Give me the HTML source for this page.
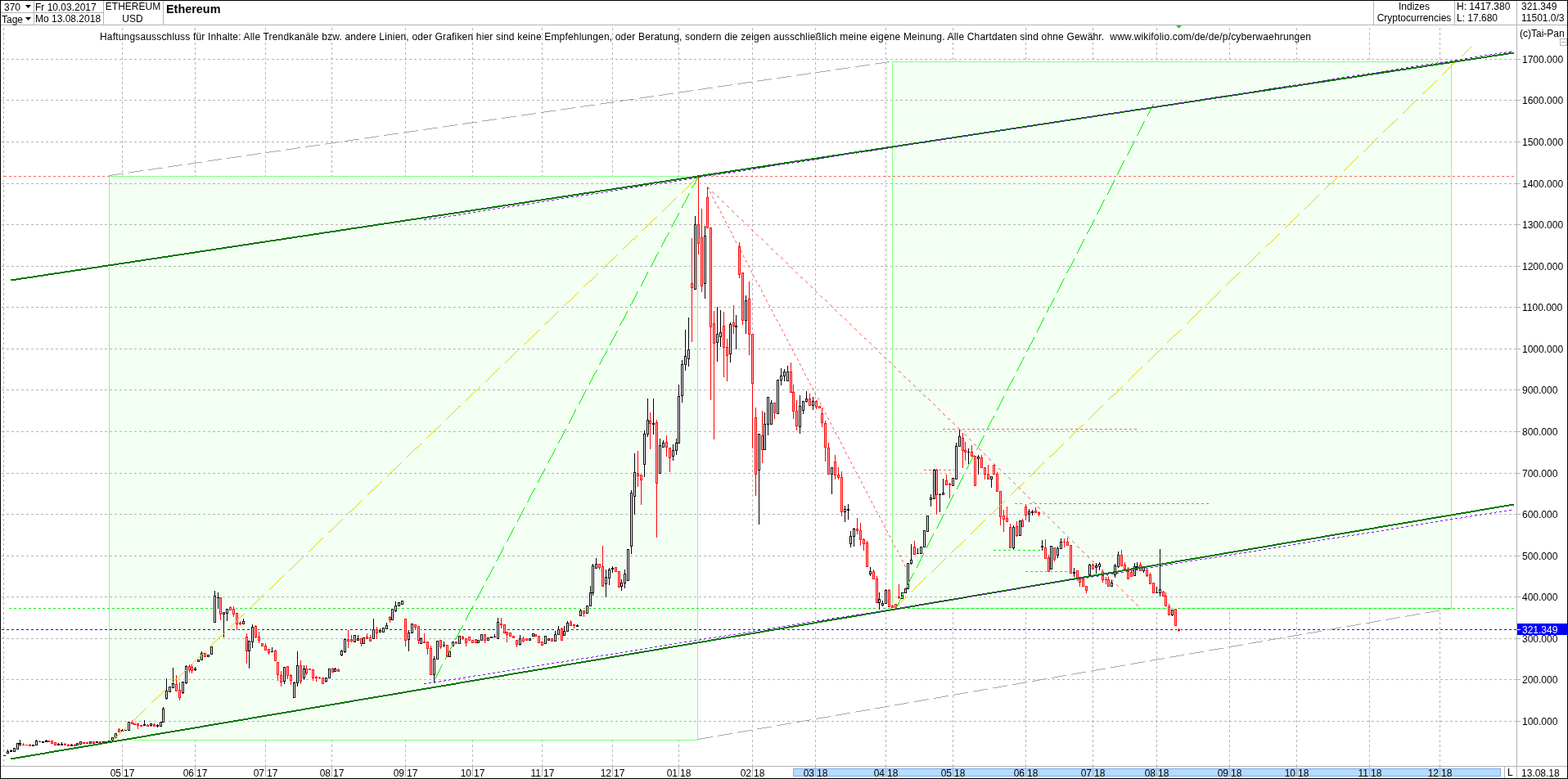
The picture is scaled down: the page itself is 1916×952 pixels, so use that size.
<!DOCTYPE html><html><head><meta charset="utf-8"><title>Ethereum</title><style>html,body{margin:0;padding:0;background:#fff;overflow:hidden}svg{display:block}text{font-family:"Liberation Sans",Arial,sans-serif;font-size:12px;fill:#000}.b{font-weight:bold}</style></head><body>
<svg width="1916" height="952" viewBox="0 0 1916 952">
<rect x="0" y="0" width="1916" height="952" fill="#fff"/>
<g shape-rendering="crispEdges">
<line x1="4.5" y1="34" x2="4.5" y2="936" stroke="#b4b4b4" stroke-dasharray="3 3"/>
<line x1="149.5" y1="34" x2="149.5" y2="936" stroke="#b4b4b4" stroke-dasharray="3 3"/>
<line x1="238.5" y1="34" x2="238.5" y2="936" stroke="#b4b4b4" stroke-dasharray="3 3"/>
<line x1="324.5" y1="34" x2="324.5" y2="936" stroke="#b4b4b4" stroke-dasharray="3 3"/>
<line x1="405.5" y1="34" x2="405.5" y2="936" stroke="#b4b4b4" stroke-dasharray="3 3"/>
<line x1="495.5" y1="34" x2="495.5" y2="936" stroke="#b4b4b4" stroke-dasharray="3 3"/>
<line x1="577.5" y1="34" x2="577.5" y2="936" stroke="#b4b4b4" stroke-dasharray="3 3"/>
<line x1="662.5" y1="34" x2="662.5" y2="936" stroke="#b4b4b4" stroke-dasharray="3 3"/>
<line x1="748.5" y1="34" x2="748.5" y2="936" stroke="#b4b4b4" stroke-dasharray="3 3"/>
<line x1="829.5" y1="34" x2="829.5" y2="936" stroke="#b4b4b4" stroke-dasharray="3 3"/>
<line x1="919.5" y1="34" x2="919.5" y2="936" stroke="#b4b4b4" stroke-dasharray="3 3"/>
<line x1="996.5" y1="34" x2="996.5" y2="936" stroke="#b4b4b4" stroke-dasharray="3 3"/>
<line x1="1082.5" y1="34" x2="1082.5" y2="936" stroke="#b4b4b4" stroke-dasharray="3 3"/>
<line x1="1164.5" y1="34" x2="1164.5" y2="936" stroke="#b4b4b4" stroke-dasharray="3 3"/>
<line x1="1253.5" y1="34" x2="1253.5" y2="936" stroke="#b4b4b4" stroke-dasharray="3 3"/>
<line x1="1335.5" y1="34" x2="1335.5" y2="936" stroke="#b4b4b4" stroke-dasharray="3 3"/>
<line x1="1413.5" y1="34" x2="1413.5" y2="936" stroke="#b4b4b4" stroke-dasharray="3 3"/>
<line x1="1502.5" y1="34" x2="1502.5" y2="936" stroke="#b4b4b4" stroke-dasharray="3 3"/>
<line x1="1584.5" y1="34" x2="1584.5" y2="936" stroke="#b4b4b4" stroke-dasharray="3 3"/>
<line x1="1673.5" y1="34" x2="1673.5" y2="936" stroke="#b4b4b4" stroke-dasharray="3 3"/>
<line x1="1759.5" y1="34" x2="1759.5" y2="936" stroke="#b4b4b4" stroke-dasharray="3 3"/>
<rect x="133" y="215" width="720" height="690" fill="#f3fff3"/>
<rect x="1090" y="75" width="684" height="669" fill="#f3fff3"/>
<line x1="8" y1="72.5" x2="1850" y2="72.5" stroke="#b4b4b4" stroke-dasharray="3 3"/>
<rect x="1850" y="72" width="8" height="1" fill="#b4b4b4"/>
<rect x="2" y="72" width="3" height="1" fill="#b4b4b4"/>
<line x1="8" y1="122.5" x2="1850" y2="122.5" stroke="#b4b4b4" stroke-dasharray="3 3"/>
<rect x="1850" y="122" width="8" height="1" fill="#b4b4b4"/>
<rect x="2" y="122" width="3" height="1" fill="#b4b4b4"/>
<line x1="8" y1="173.5" x2="1850" y2="173.5" stroke="#b4b4b4" stroke-dasharray="3 3"/>
<rect x="1850" y="173" width="8" height="1" fill="#b4b4b4"/>
<rect x="2" y="173" width="3" height="1" fill="#b4b4b4"/>
<line x1="8" y1="224.5" x2="1850" y2="224.5" stroke="#b4b4b4" stroke-dasharray="3 3"/>
<rect x="1850" y="224" width="8" height="1" fill="#b4b4b4"/>
<rect x="2" y="224" width="3" height="1" fill="#b4b4b4"/>
<line x1="8" y1="274.5" x2="1850" y2="274.5" stroke="#b4b4b4" stroke-dasharray="3 3"/>
<rect x="1850" y="274" width="8" height="1" fill="#b4b4b4"/>
<rect x="2" y="274" width="3" height="1" fill="#b4b4b4"/>
<line x1="8" y1="325.5" x2="1850" y2="325.5" stroke="#b4b4b4" stroke-dasharray="3 3"/>
<rect x="1850" y="325" width="8" height="1" fill="#b4b4b4"/>
<rect x="2" y="325" width="3" height="1" fill="#b4b4b4"/>
<line x1="8" y1="375.5" x2="1850" y2="375.5" stroke="#b4b4b4" stroke-dasharray="3 3"/>
<rect x="1850" y="375" width="8" height="1" fill="#b4b4b4"/>
<rect x="2" y="375" width="3" height="1" fill="#b4b4b4"/>
<line x1="8" y1="426.5" x2="1850" y2="426.5" stroke="#b4b4b4" stroke-dasharray="3 3"/>
<rect x="1850" y="426" width="8" height="1" fill="#b4b4b4"/>
<rect x="2" y="426" width="3" height="1" fill="#b4b4b4"/>
<line x1="8" y1="476.5" x2="1850" y2="476.5" stroke="#b4b4b4" stroke-dasharray="3 3"/>
<rect x="1850" y="476" width="8" height="1" fill="#b4b4b4"/>
<rect x="2" y="476" width="3" height="1" fill="#b4b4b4"/>
<line x1="8" y1="527.5" x2="1850" y2="527.5" stroke="#b4b4b4" stroke-dasharray="3 3"/>
<rect x="1850" y="527" width="8" height="1" fill="#b4b4b4"/>
<rect x="2" y="527" width="3" height="1" fill="#b4b4b4"/>
<line x1="8" y1="578.5" x2="1850" y2="578.5" stroke="#b4b4b4" stroke-dasharray="3 3"/>
<rect x="1850" y="578" width="8" height="1" fill="#b4b4b4"/>
<rect x="2" y="578" width="3" height="1" fill="#b4b4b4"/>
<line x1="8" y1="628.5" x2="1850" y2="628.5" stroke="#b4b4b4" stroke-dasharray="3 3"/>
<rect x="1850" y="628" width="8" height="1" fill="#b4b4b4"/>
<rect x="2" y="628" width="3" height="1" fill="#b4b4b4"/>
<line x1="8" y1="679.5" x2="1850" y2="679.5" stroke="#b4b4b4" stroke-dasharray="3 3"/>
<rect x="1850" y="679" width="8" height="1" fill="#b4b4b4"/>
<rect x="2" y="679" width="3" height="1" fill="#b4b4b4"/>
<line x1="8" y1="729.5" x2="1850" y2="729.5" stroke="#b4b4b4" stroke-dasharray="3 3"/>
<rect x="1850" y="729" width="8" height="1" fill="#b4b4b4"/>
<rect x="2" y="729" width="3" height="1" fill="#b4b4b4"/>
<line x1="8" y1="780.5" x2="1850" y2="780.5" stroke="#b4b4b4" stroke-dasharray="3 3"/>
<rect x="1850" y="780" width="8" height="1" fill="#b4b4b4"/>
<rect x="2" y="780" width="3" height="1" fill="#b4b4b4"/>
<line x1="8" y1="830.5" x2="1850" y2="830.5" stroke="#b4b4b4" stroke-dasharray="3 3"/>
<rect x="1850" y="830" width="8" height="1" fill="#b4b4b4"/>
<rect x="2" y="830" width="3" height="1" fill="#b4b4b4"/>
<line x1="8" y1="881.5" x2="1850" y2="881.5" stroke="#b4b4b4" stroke-dasharray="3 3"/>
<rect x="1850" y="881" width="8" height="1" fill="#b4b4b4"/>
<rect x="2" y="881" width="3" height="1" fill="#b4b4b4"/>
<line x1="5" y1="215.5" x2="1851" y2="215.5" stroke="#ff6464" stroke-dasharray="3 3"/>
<line x1="1152" y1="524.5" x2="1390" y2="524.5" stroke="#ff6464" stroke-dasharray="3 3"/>
<line x1="1129" y1="574.5" x2="1169" y2="574.5" stroke="#ff6464" stroke-dasharray="3 3"/>
<line x1="1240" y1="615.5" x2="1479" y2="615.5" stroke="#ff6464" stroke-dasharray="3 3"/>
<rect x="133.5" y="215.5" width="719" height="689" fill="none" stroke="#80ff80"/>
<rect x="1090.5" y="75.5" width="683" height="668" fill="none" stroke="#80ff80"/>
</g>
<path d="M13 342.0h7M20 341.0h6M26 340.0h7M33 339.0h7M40 338.0h6M46 337.0h7M53 336.0h6M59 335.0h7M66 334.0h7M73 333.0h6M79 332.0h7M86 331.0h6M92 330.0h7M99 329.0h7M106 328.0h6M112 327.0h7M119 326.0h6M125 325.0h7M132 324.0h7M139 323.0h6M145 322.0h7M152 321.0h7M159 320.0h6M165 319.0h7M172 318.0h6M178 317.0h7M185 316.0h7M192 315.0h6M198 314.0h7M205 313.0h6M211 312.0h7M218 311.0h7M225 310.0h6M231 309.0h7M238 308.0h6M244 307.0h7M251 306.0h7M258 305.0h6M264 304.0h7M271 303.0h6M277 302.0h7M284 301.0h7M291 300.0h6M297 299.0h7M304 298.0h6M310 297.0h7M317 296.0h7M324 295.0h6M330 294.0h7M337 293.0h7M344 292.0h6M350 291.0h7M357 290.0h6M363 289.0h7M370 288.0h7M377 287.0h6M383 286.0h7M390 285.0h6M396 284.0h7M403 283.0h7M410 282.0h6M416 281.0h7M423 280.0h6M429 279.0h7M436 278.0h7M443 277.0h6M449 276.0h7M456 275.0h6M462 274.0h7M469 273.0h7M476 272.0h6M482 271.0h7M489 270.0h6M495 269.0h7M502 268.0h7M509 267.0h6M515 266.0h7M522 265.0h6M528 264.0h7M535 263.0h7M542 262.0h6M548 261.0h7M555 260.0h7M562 259.0h6M568 258.0h7M575 257.0h6M581 256.0h7M588 255.0h7M595 254.0h6M601 253.0h7M608 252.0h6M614 251.0h7M621 250.0h7M628 249.0h6M634 248.0h7M641 247.0h6M647 246.0h7M654 245.0h7M661 244.0h6M667 243.0h7M674 242.0h6M680 241.0h7M687 240.0h7M694 239.0h6M700 238.0h7M707 237.0h6M713 236.0h7M720 235.0h7M727 234.0h6M733 233.0h7M740 232.0h7M747 231.0h6M753 230.0h7M760 229.0h6M766 228.0h7M773 227.0h7M780 226.0h6M786 225.0h7M793 224.0h6M799 223.0h7M806 222.0h7M813 221.0h6M819 220.0h7M826 219.0h6M832 218.0h7M839 217.0h7M846 216.0h6M852 215.0h7M859 214.0h6M865 213.0h7M872 212.0h7M879 211.0h6M885 210.0h7M892 209.0h6M898 208.0h7M905 207.0h7M912 206.0h6M918 205.0h7M925 204.0h7M932 203.0h6M938 202.0h7M945 201.0h6M951 200.0h7M958 199.0h7M965 198.0h6M971 197.0h7M978 196.0h6M984 195.0h7M991 194.0h7M998 193.0h6M1004 192.0h7M1011 191.0h6M1017 190.0h7M1024 189.0h7M1031 188.0h6M1037 187.0h7M1044 186.0h6M1050 185.0h7M1057 184.0h7M1064 183.0h6M1070 182.0h7M1077 181.0h6M1083 180.0h7M1090 179.0h7M1097 178.0h6M1103 177.0h7M1110 176.0h6M1116 175.0h7M1123 174.0h7M1130 173.0h6M1136 172.0h7M1143 171.0h7M1150 170.0h6M1156 169.0h7M1163 168.0h6M1169 167.0h7M1176 166.0h7M1183 165.0h6M1189 164.0h7M1196 163.0h6M1202 162.0h7M1209 161.0h7M1216 160.0h6M1222 159.0h7M1229 158.0h6M1235 157.0h7M1242 156.0h7M1249 155.0h6M1255 154.0h7M1262 153.0h6M1268 152.0h7M1275 151.0h7M1282 150.0h6M1288 149.0h7M1295 148.0h6M1301 147.0h7M1308 146.0h7M1315 145.0h6M1321 144.0h7M1328 143.0h7M1335 142.0h6M1341 141.0h7M1348 140.0h6M1354 139.0h7M1361 138.0h7M1368 137.0h6M1374 136.0h7M1381 135.0h6M1387 134.0h7M1394 133.0h7M1401 132.0h6M1407 131.0h7M1414 130.0h6M1420 129.0h7M1427 128.0h7M1434 127.0h6M1440 126.0h7M1447 125.0h6M1453 124.0h7M1460 123.0h7M1467 122.0h6M1473 121.0h7M1480 120.0h6M1486 119.0h7M1493 118.0h7M1500 117.0h6M1506 116.0h7M1513 115.0h6M1519 114.0h7M1526 113.0h7M1533 112.0h6M1539 111.0h7M1546 110.0h7M1553 109.0h6M1559 108.0h7M1566 107.0h6M1572 106.0h7M1579 105.0h7M1586 104.0h6M1592 103.0h7M1599 102.0h6M1605 101.0h7M1612 100.0h7M1619 99.0h6M1625 98.0h7M1632 97.0h6M1638 96.0h7M1645 95.0h7M1652 94.0h6M1658 93.0h7M1665 92.0h6M1671 91.0h7M1678 90.0h7M1685 89.0h6M1691 88.0h7M1698 87.0h6M1704 86.0h7M1711 85.0h7M1718 84.0h6M1724 83.0h7M1731 82.0h7M1738 81.0h6M1744 80.0h7M1751 79.0h6M1757 78.0h7M1764 77.0h7M1771 76.0h6M1777 75.0h7M1784 74.0h6M1790 73.0h7M1797 72.0h7M1804 71.0h6M1810 70.0h7M1817 69.0h6M1823 68.0h7M1830 67.0h7M1837 66.0h6M1843 65.0h7" stroke="#fff" stroke-width="4" fill="none"/>
<path d="M13 927.0h6M19 926.0h6M25 925.0h6M31 924.0h6M37 923.0h6M43 922.0h6M49 921.0h6M55 920.0h5M60 919.0h6M66 918.0h6M72 917.0h6M78 916.0h6M84 915.0h6M90 914.0h6M96 913.0h6M102 912.0h6M108 911.0h6M114 910.0h6M120 909.0h5M125 908.0h6M131 907.0h6M137 906.0h6M143 905.0h6M149 904.0h6M155 903.0h6M161 902.0h6M167 901.0h6M173 900.0h6M179 899.0h5M184 898.0h6M190 897.0h6M196 896.0h6M202 895.0h6M208 894.0h6M214 893.0h6M220 892.0h6M226 891.0h6M232 890.0h6M238 889.0h6M244 888.0h5M249 887.0h6M255 886.0h6M261 885.0h6M267 884.0h6M273 883.0h6M279 882.0h6M285 881.0h6M291 880.0h6M297 879.0h6M303 878.0h5M308 877.0h6M314 876.0h6M320 875.0h6M326 874.0h6M332 873.0h6M338 872.0h6M344 871.0h6M350 870.0h6M356 869.0h6M362 868.0h6M368 867.0h5M373 866.0h6M379 865.0h6M385 864.0h6M391 863.0h6M397 862.0h6M403 861.0h6M409 860.0h6M415 859.0h6M421 858.0h6M427 857.0h5M432 856.0h6M438 855.0h6M444 854.0h6M450 853.0h6M456 852.0h6M462 851.0h6M468 850.0h6M474 849.0h6M480 848.0h6M486 847.0h6M492 846.0h5M497 845.0h6M503 844.0h6M509 843.0h6M515 842.0h6M521 841.0h6M527 840.0h6M533 839.0h6M539 838.0h6M545 837.0h6M551 836.0h6M557 835.0h5M562 834.0h6M568 833.0h6M574 832.0h6M580 831.0h6M586 830.0h6M592 829.0h6M598 828.0h6M604 827.0h6M610 826.0h6M616 825.0h5M621 824.0h6M627 823.0h6M633 822.0h6M639 821.0h6M645 820.0h6M651 819.0h6M657 818.0h6M663 817.0h6M669 816.0h6M675 815.0h6M681 814.0h5M686 813.0h6M692 812.0h6M698 811.0h6M704 810.0h6M710 809.0h6M716 808.0h6M722 807.0h6M728 806.0h6M734 805.0h6M740 804.0h5M745 803.0h6M751 802.0h6M757 801.0h6M763 800.0h6M769 799.0h6M775 798.0h6M781 797.0h6M787 796.0h6M793 795.0h6M799 794.0h6M805 793.0h5M810 792.0h6M816 791.0h6M822 790.0h6M828 789.0h6M834 788.0h6M840 787.0h6M846 786.0h6M852 785.0h6M858 784.0h6M864 783.0h5M869 782.0h6M875 781.0h6M881 780.0h6M887 779.0h6M893 778.0h6M899 777.0h6M905 776.0h6M911 775.0h6M917 774.0h6M923 773.0h6M929 772.0h5M934 771.0h6M940 770.0h6M946 769.0h6M952 768.0h6M958 767.0h6M964 766.0h6M970 765.0h6M976 764.0h6M982 763.0h6M988 762.0h6M994 761.0h5M999 760.0h6M1005 759.0h6M1011 758.0h6M1017 757.0h6M1023 756.0h6M1029 755.0h6M1035 754.0h6M1041 753.0h6M1047 752.0h6M1053 751.0h5M1058 750.0h6M1064 749.0h6M1070 748.0h6M1076 747.0h6M1082 746.0h6M1088 745.0h6M1094 744.0h6M1100 743.0h6M1106 742.0h6M1112 741.0h6M1118 740.0h5M1123 739.0h6M1129 738.0h6M1135 737.0h6M1141 736.0h6M1147 735.0h6M1153 734.0h6M1159 733.0h6M1165 732.0h6M1171 731.0h6M1177 730.0h5M1182 729.0h6M1188 728.0h6M1194 727.0h6M1200 726.0h6M1206 725.0h6M1212 724.0h6M1218 723.0h6M1224 722.0h6M1230 721.0h6M1236 720.0h6M1242 719.0h5M1247 718.0h6M1253 717.0h6M1259 716.0h6M1265 715.0h6M1271 714.0h6M1277 713.0h6M1283 712.0h6M1289 711.0h6M1295 710.0h6M1301 709.0h5M1306 708.0h6M1312 707.0h6M1318 706.0h6M1324 705.0h6M1330 704.0h6M1336 703.0h6M1342 702.0h6M1348 701.0h6M1354 700.0h6M1360 699.0h6M1366 698.0h5M1371 697.0h6M1377 696.0h6M1383 695.0h6M1389 694.0h6M1395 693.0h6M1401 692.0h6M1407 691.0h6M1413 690.0h6M1419 689.0h6M1425 688.0h6M1431 687.0h5M1436 686.0h6M1442 685.0h6M1448 684.0h6M1454 683.0h6M1460 682.0h6M1466 681.0h6M1472 680.0h6M1478 679.0h6M1484 678.0h6M1490 677.0h5M1495 676.0h6M1501 675.0h6M1507 674.0h6M1513 673.0h6M1519 672.0h6M1525 671.0h6M1531 670.0h6M1537 669.0h6M1543 668.0h6M1549 667.0h6M1555 666.0h5M1560 665.0h6M1566 664.0h6M1572 663.0h6M1578 662.0h6M1584 661.0h6M1590 660.0h6M1596 659.0h6M1602 658.0h6M1608 657.0h6M1614 656.0h5M1619 655.0h6M1625 654.0h6M1631 653.0h6M1637 652.0h6M1643 651.0h6M1649 650.0h6M1655 649.0h6M1661 648.0h6M1667 647.0h6M1673 646.0h6M1679 645.0h5M1684 644.0h6M1690 643.0h6M1696 642.0h6M1702 641.0h6M1708 640.0h6M1714 639.0h6M1720 638.0h6M1726 637.0h6M1732 636.0h6M1738 635.0h5M1743 634.0h6M1749 633.0h6M1755 632.0h6M1761 631.0h6M1767 630.0h6M1773 629.0h6M1779 628.0h6M1785 627.0h6M1791 626.0h6M1797 625.0h6M1803 624.0h5M1808 623.0h6M1814 622.0h6M1820 621.0h6M1826 620.0h6M1832 619.0h6M1838 618.0h6M1844 617.0h6" stroke="#fff" stroke-width="4" fill="none"/>
<g shape-rendering="crispEdges">
<line x1="11" y1="743.5" x2="1851" y2="743.5" stroke="#00f000" stroke-dasharray="3 3"/>
<line x1="1214" y1="672.5" x2="1278" y2="672.5" stroke="#00f000" stroke-dasharray="3 3"/>
<line x1="1253" y1="698.5" x2="1309" y2="698.5" stroke="#00f000" stroke-dasharray="3 3"/>
<line x1="2" y1="769.5" x2="1853" y2="769.5" stroke="#0000ff" stroke-dasharray="3 3"/>
</g>
<g shape-rendering="crispEdges">
<path d="M4 922h3v3h-3zM3 922h5v3h-5zM8 915h3v7h-3zM7 917h5v5h-5zM12 915h3v5h-3zM11 916h5v4h-5zM16 913h3v7h-3zM15 913h5v7h-5zM20 907h3v10h-3zM19 907h5v10h-5zM23 903h3v10h-3zM22 907h5v4h-5zM27 907h3v5h-3zM26 909h5v3h-5zM31 909h3v3h-3zM30 909h5v3h-5zM35 908h3v5h-3zM34 909h5v4h-5zM39 909h3v4h-3zM38 909h5v4h-5zM43 903h3v9h-3zM42 904h5v8h-5zM47 904h3v4h-3zM46 905h5v3h-5zM51 905h3v4h-3zM50 905h5v4h-5zM55 903h3v5h-3zM54 904h5v4h-5zM58 904h3v4h-3zM57 904h5v4h-5zM62 904h3v6h-3zM61 904h5v6h-5zM66 906h3v6h-3zM65 906h5v6h-5zM70 907h3v5h-3zM69 908h5v4h-5zM74 906h3v6h-3zM73 908h5v4h-5zM78 907h3v5h-3zM77 908h5v4h-5zM82 908h3v5h-3zM81 909h5v4h-5zM86 908h3v5h-3zM85 909h5v4h-5zM90 908h3v5h-3zM89 909h5v4h-5zM93 907h3v5h-3zM92 907h5v5h-5zM97 905h3v6h-3zM96 905h5v6h-5zM101 906h3v4h-3zM100 906h5v4h-5zM105 906h3v4h-3zM104 906h5v4h-5zM109 905h3v5h-3zM108 905h5v5h-5zM113 905h3v5h-3zM112 905h5v5h-5zM117 905h3v4h-3zM116 905h5v4h-5zM121 905h3v4h-3zM120 905h5v4h-5zM125 905h3v4h-3zM124 905h5v4h-5zM128 905h3v4h-3zM127 905h5v4h-5zM132 904h3v4h-3zM131 904h5v4h-5zM136 900h3v6h-3zM135 900h5v6h-5zM140 895h3v8h-3zM139 895h5v8h-5zM144 889h3v7h-3zM143 890h5v6h-5zM148 890h3v5h-3zM147 891h5v4h-5zM152 891h3v3h-3zM151 891h5v3h-5zM156 881h3v13h-3zM155 881h5v13h-5zM160 879h3v7h-3zM159 881h5v5h-5zM163 883h3v4h-3zM162 883h5v4h-5zM167 883h3v9h-3zM166 883h5v5h-5zM171 885h3v4h-3zM170 885h5v4h-5zM175 879h3v9h-3zM174 884h5v4h-5zM179 884h3v5h-3zM178 885h5v4h-5zM183 883h3v6h-3zM182 883h5v5h-5zM187 883h3v6h-3zM186 884h5v5h-5zM191 884h3v6h-3zM190 885h5v4h-5zM195 881h3v8h-3zM194 881h5v8h-5zM198 863h3v21h-3zM197 865h5v19h-5zM202 828h3v28h-3zM201 843h5v12h-5zM206 838h3v9h-3zM205 838h5v9h-5zM210 815h3v27h-3zM209 834h5v8h-5zM214 824h3v22h-3zM213 835h5v11h-5zM218 833h3v24h-3zM217 842h5v12h-5zM222 832h3v17h-3zM221 832h5v16h-5zM226 812h3v25h-3zM225 813h5v23h-5zM230 811h3v12h-3zM229 813h5v7h-5zM233 811h3v13h-3zM232 814h5v7h-5zM237 814h3v7h-3zM236 816h5v4h-5zM241 805h3v5h-3zM240 805h5v5h-5zM245 795h3v13h-3zM244 797h5v11h-5zM249 797h3v7h-3zM248 797h5v7h-5zM253 799h3v5h-3zM252 799h5v5h-5zM257 789h3v12h-3zM256 789h5v12h-5zM261 721h3v41h-3zM260 727h5v35h-5zM265 723h3v22h-3zM264 729h5v3h-5zM268 729h3v30h-3zM267 729h5v23h-5zM272 747h3v33h-3zM271 747h5v5h-5zM276 743h3v17h-3zM275 743h5v8h-5zM280 740h3v7h-3zM279 741h5v6h-5zM284 740h3v15h-3zM283 743h5v9h-5zM288 748h3v23h-3zM287 748h5v16h-5zM292 758h3v7h-3zM291 760h5v4h-5zM296 755h3v9h-3zM295 758h5v6h-5zM300 773h3v39h-3zM299 777h5v20h-5zM303 782h3v36h-3zM302 782h5v15h-5zM307 762h3v31h-3zM306 765h5v21h-5zM311 763h3v18h-3zM310 764h5v16h-5zM315 771h3v16h-3zM314 777h5v7h-5zM319 785h3v6h-3zM318 785h5v6h-5zM323 785h3v11h-3zM322 788h5v8h-5zM327 792h3v9h-3zM326 792h5v7h-5zM331 790h3v8h-3zM330 795h5v3h-5zM335 793h3v16h-3zM334 794h5v15h-5zM338 808h3v25h-3zM337 808h5v18h-5zM342 819h3v21h-3zM341 824h5v11h-5zM346 814h3v23h-3zM345 814h5v20h-5zM350 813h3v18h-3zM349 813h5v14h-5zM354 823h3v15h-3zM353 824h5v9h-5zM358 832h3v22h-3zM357 833h5v21h-5zM362 795h3v45h-3zM361 812h5v24h-5zM366 806h3v31h-3zM365 812h5v22h-5zM370 812h3v20h-3zM369 816h5v14h-5zM373 812h3v14h-3zM372 816h5v8h-5zM377 816h3v4h-3zM376 816h5v4h-5zM381 817h3v16h-3zM380 817h5v13h-5zM385 825h3v9h-3zM384 826h5v4h-5zM389 826h3v5h-3zM388 827h5v3h-5zM393 827h3v10h-3zM392 827h5v10h-5zM397 827h3v8h-3zM396 827h5v7h-5zM401 816h3v14h-3zM400 816h5v14h-5zM405 815h3v8h-3zM404 816h5v7h-5zM408 815h3v7h-3zM407 816h5v6h-5zM412 816h3v6h-3zM411 817h5v5h-5zM416 793h3v10h-3zM415 794h5v8h-5zM420 779h3v20h-3zM419 780h5v18h-5zM424 769h3v24h-3zM423 780h5v5h-5zM428 775h3v11h-3zM427 780h5v5h-5zM432 775h3v11h-3zM431 775h5v11h-5zM436 775h3v9h-3zM435 779h5v5h-5zM440 779h3v12h-3zM439 779h5v9h-5zM443 778h3v10h-3zM442 778h5v10h-5zM447 773h3v9h-3zM446 777h5v5h-5zM451 775h3v10h-3zM450 778h5v7h-5zM455 755h3v27h-3zM454 768h5v14h-5zM459 765h3v17h-3zM458 768h5v7h-5zM463 767h3v7h-3zM462 769h5v5h-5zM467 766h3v8h-3zM466 766h5v8h-5zM471 760h3v10h-3zM470 763h5v7h-5zM475 752h3v10h-3zM474 753h5v6h-5zM478 743h3v16h-3zM477 743h5v16h-5zM482 734h3v15h-3zM481 739h5v9h-5zM486 735h3v7h-3zM485 735h5v7h-5zM490 733h3v7h-3zM489 733h5v7h-5zM494 755h3v36h-3zM493 755h5v29h-5zM498 769h3v28h-3zM497 772h5v11h-5zM502 761h3v14h-3zM501 761h5v14h-5zM506 762h3v9h-3zM505 762h5v6h-5zM510 764h3v24h-3zM509 764h5v20h-5zM513 778h3v10h-3zM512 779h5v9h-5zM517 773h3v14h-3zM516 783h5v4h-5zM521 783h3v18h-3zM520 783h5v11h-5zM525 788h3v38h-3zM524 791h5v35h-5zM529 801h3v34h-3zM528 804h5v22h-5zM533 782h3v25h-3zM532 782h5v25h-5zM537 781h3v13h-3zM536 781h5v11h-5zM541 783h3v9h-3zM540 787h5v3h-5zM545 787h3v17h-3zM544 787h5v17h-5zM548 794h3v10h-3zM547 795h5v9h-5zM552 783h3v8h-3zM551 783h5v8h-5zM556 783h3v5h-3zM555 783h5v5h-5zM560 776h3v12h-3zM559 776h5v12h-5zM564 776h3v7h-3zM563 777h5v5h-5zM568 779h3v12h-3zM567 779h5v8h-5zM572 777h3v7h-3zM571 777h5v7h-5zM576 781h3v6h-3zM575 781h5v6h-5zM580 780h3v7h-3zM579 780h5v7h-5zM583 781h3v6h-3zM582 781h5v6h-5zM587 774h3v10h-3zM586 774h5v10h-5zM591 774h3v13h-3zM590 774h5v10h-5zM595 778h3v6h-3zM594 778h5v6h-5zM599 777h3v4h-3zM598 777h5v4h-5zM603 774h3v6h-3zM602 777h5v3h-5zM607 754h3v28h-3zM606 759h5v23h-5zM611 754h3v15h-3zM610 761h5v4h-5zM615 762h3v13h-3zM614 762h5v13h-5zM618 771h3v15h-3zM617 771h5v6h-5zM622 772h3v7h-3zM621 772h5v7h-5zM626 776h3v5h-3zM625 776h5v5h-5zM630 781h3v11h-3zM629 781h5v8h-5zM634 775h3v15h-3zM633 779h5v10h-5zM638 777h3v9h-3zM637 779h5v6h-5zM642 779h3v5h-3zM641 779h5v5h-5zM646 779h3v5h-3zM645 779h5v5h-5zM650 773h3v6h-3zM649 773h5v6h-5zM653 774h3v5h-3zM652 774h5v5h-5zM657 776h3v11h-3zM656 776h5v11h-5zM661 783h3v7h-3zM660 783h5v7h-5zM665 776h3v12h-3zM664 776h5v12h-5zM669 779h3v5h-3zM668 779h5v5h-5zM673 779h3v6h-3zM672 779h5v6h-5zM677 770h3v15h-3zM676 774h5v11h-5zM681 764h3v13h-3zM680 768h5v9h-5zM685 766h3v18h-3zM684 767h5v17h-5zM688 764h3v14h-3zM687 770h5v8h-5zM692 758h3v15h-3zM691 760h5v13h-5zM696 757h3v9h-3zM695 759h5v7h-5zM700 762h3v7h-3zM699 762h5v4h-5zM704 762h3v5h-3zM703 763h5v4h-5zM708 743h3v11h-3zM707 745h5v9h-5zM712 745h3v10h-3zM711 745h5v6h-5zM716 739h3v12h-3zM715 739h5v12h-5zM720 715h3v27h-3zM719 723h5v19h-5zM723 688h3v41h-3zM722 690h5v36h-5zM727 681h3v15h-3zM726 688h5v8h-5zM731 688h3v9h-3zM730 688h5v7h-5zM735 666h3v52h-3zM734 691h5v27h-5zM739 695h3v36h-3zM738 704h5v11h-5zM743 693h3v23h-3zM742 695h5v13h-5zM747 691h3v10h-3zM746 693h5v4h-5zM751 692h3v8h-3zM750 692h5v8h-5zM755 697h3v22h-3zM754 697h5v22h-5zM758 707h3v16h-3zM757 711h5v7h-5zM762 695h3v25h-3zM761 700h5v14h-5zM766 670h3v41h-3zM765 670h5v41h-5zM770 598h3v80h-3zM769 601h5v68h-5zM774 553h3v77h-3zM773 576h5v32h-5zM778 550h3v46h-3zM777 577h5v6h-5zM782 579h3v39h-3zM781 579h5v9h-5zM786 525h3v59h-3zM785 529h5v40h-5zM790 486h3v49h-3zM789 512h5v20h-5zM793 503h3v47h-3zM792 513h5v6h-5zM797 486h3v46h-3zM796 516h5v4h-5zM801 512h3v146h-3zM800 515h5v77h-5zM805 535h3v45h-3zM804 543h5v37h-5zM809 537h3v11h-3zM808 540h5v8h-5zM813 531h3v28h-3zM812 539h5v9h-5zM817 546h3v32h-3zM816 546h5v15h-5zM821 542h3v22h-3zM820 549h5v10h-5zM825 535h3v22h-3zM824 540h5v12h-5zM828 469h3v74h-3zM827 483h5v60h-5zM832 439h3v54h-3zM831 444h5v41h-5zM836 402h3v52h-3zM835 434h5v13h-5zM840 387h3v62h-3zM839 426h5v14h-5zM844 290h3v129h-3zM843 345h5v8h-5zM848 263h3v92h-3zM847 273h5v82h-5zM852 215h3v97h-3zM851 273h5v26h-5zM856 254h3v104h-3zM855 289h5v62h-5zM860 275h3v91h-3zM859 287h5v61h-5zM863 227h3v53h-3zM862 240h5v40h-5zM867 277h3v213h-3zM866 277h5v124h-5zM871 379h3v159h-3zM870 394h5v27h-5zM875 374h3v69h-3zM874 407h5v13h-5zM879 378h3v47h-3zM878 405h5v8h-5zM883 380h3v82h-3zM882 397h5v29h-5zM887 413h3v54h-3zM886 423h5v13h-5zM891 393h3v51h-3zM890 395h5v39h-5zM895 372h3v37h-3zM894 393h5v7h-5zM898 384h3v44h-3zM897 397h5v4h-5zM902 295h3v46h-3zM901 300h5v37h-5zM906 332h3v66h-3zM905 332h5v61h-5zM910 360h3v49h-3zM909 366h5v27h-5zM914 343h3v92h-3zM913 364h5v46h-5zM918 407h3v142h-3zM917 407h5v63h-5zM922 497h3v110h-3zM921 509h5v72h-5zM926 529h3v113h-3zM925 529h5v47h-5zM930 501h3v66h-3zM929 531h5v20h-5zM933 503h3v48h-3zM932 517h5v34h-5zM937 484h3v49h-3zM936 484h5v36h-5zM941 488h3v32h-3zM940 491h5v29h-5zM945 491h3v22h-3zM944 491h5v15h-5zM949 463h3v44h-3zM948 463h5v44h-5zM953 449h3v23h-3zM952 458h5v8h-5zM957 450h3v17h-3zM956 453h5v8h-5zM961 446h3v21h-3zM960 453h5v14h-5zM965 442h3v39h-3zM964 453h5v28h-5zM968 469h3v44h-3zM967 478h5v26h-5zM972 488h3v39h-3zM971 501h5v21h-5zM976 482h3v49h-3zM975 495h5v28h-5zM980 489h3v18h-3zM979 489h5v14h-5zM984 477h3v16h-3zM983 486h5v6h-5zM988 480h3v17h-3zM987 486h5v11h-5zM992 484h3v18h-3zM991 489h5v8h-5zM996 488h3v13h-3zM995 489h5v10h-5zM1000 495h3v5h-3zM999 495h5v5h-5zM1003 498h3v25h-3zM1002 504h5v14h-5zM1007 513h3v52h-3zM1006 516h5v32h-5zM1011 540h3v41h-3zM1010 546h5v35h-5zM1015 570h3v35h-3zM1014 570h5v11h-5zM1019 555h3v32h-3zM1018 563h5v19h-5zM1023 570h3v17h-3zM1022 579h5v6h-5zM1027 575h3v57h-3zM1026 582h5v45h-5zM1031 617h3v22h-3zM1030 621h5v6h-5zM1035 615h3v21h-3zM1034 621h5v4h-5zM1038 648h3v22h-3zM1037 654h5v12h-5zM1042 644h3v25h-3zM1041 645h5v12h-5zM1046 632h3v22h-3zM1045 645h5v5h-5zM1050 638h3v30h-3zM1049 647h5v14h-5zM1054 657h3v17h-3zM1053 658h5v8h-5zM1058 660h3v34h-3zM1057 662h5v32h-5zM1062 692h3v13h-3zM1061 697h5v6h-5zM1066 695h3v14h-3zM1065 697h5v12h-5zM1070 703h3v35h-3zM1069 706h5v32h-5zM1073 723h3v23h-3zM1072 731h5v7h-5zM1077 733h3v9h-3zM1076 736h5v5h-5zM1081 719h3v20h-3zM1080 720h5v19h-5zM1085 719h3v24h-3zM1084 720h5v23h-5zM1089 738h3v6h-3zM1088 739h5v5h-5zM1093 737h3v7h-3zM1092 737h5v7h-5zM1097 713h3v20h-3zM1096 728h5v4h-5zM1101 723h3v10h-3zM1100 723h5v10h-5zM1105 718h3v8h-3zM1104 718h5v8h-5zM1108 687h3v34h-3zM1107 687h5v34h-5zM1112 664h3v27h-3zM1111 683h5v7h-5zM1116 660h3v19h-3zM1115 667h5v12h-5zM1120 669h3v9h-3zM1119 675h5v3h-5zM1124 667h3v11h-3zM1123 667h5v11h-5zM1128 647h3v23h-3zM1127 647h5v23h-5zM1132 629h3v22h-3zM1131 629h5v22h-5zM1136 603h3v17h-3zM1135 607h5v5h-5zM1140 572h3v39h-3zM1139 573h5v38h-5zM1143 572h3v58h-3zM1142 573h5v33h-5zM1147 602h3v25h-3zM1146 603h5v3h-5zM1151 584h3v22h-3zM1150 601h5v5h-5zM1155 579h3v15h-3zM1154 586h5v8h-5zM1159 589h3v21h-3zM1158 590h5v4h-5zM1163 583h3v12h-3zM1162 583h5v12h-5zM1167 540h3v47h-3zM1166 544h5v43h-5zM1171 524h3v23h-3zM1170 532h5v15h-5zM1175 528h3v45h-3zM1174 534h5v18h-5zM1178 539h3v25h-3zM1177 549h5v5h-5zM1182 547h3v21h-3zM1181 551h5v3h-5zM1186 543h3v16h-3zM1185 551h5v8h-5zM1190 556h3v39h-3zM1189 556h5v39h-5zM1194 555h3v26h-3zM1193 557h5v5h-5zM1198 555h3v18h-3zM1197 558h5v15h-5zM1202 570h3v17h-3zM1201 570h5v11h-5zM1206 567h3v20h-3zM1205 578h5v9h-5zM1210 581h3v16h-3zM1209 581h5v6h-5zM1213 567h3v14h-3zM1212 567h5v14h-5zM1217 576h3v26h-3zM1216 578h5v24h-5zM1221 599h3v44h-3zM1220 599h5v34h-5zM1225 622h3v29h-3zM1224 629h5v7h-5zM1229 618h3v21h-3zM1228 632h5v7h-5zM1233 639h3v32h-3zM1232 643h5v28h-5zM1237 641h3v32h-3zM1236 643h5v28h-5zM1241 636h3v21h-3zM1240 642h5v14h-5zM1245 635h3v21h-3zM1244 635h5v21h-5zM1248 633h3v12h-3zM1247 635h5v10h-5zM1252 615h3v22h-3zM1251 618h5v13h-5zM1256 621h3v18h-3zM1255 624h5v6h-5zM1260 622h3v9h-3zM1259 624h5v4h-5zM1264 619h3v9h-3zM1263 623h5v5h-5zM1268 624h3v8h-3zM1267 625h5v5h-5zM1272 659h3v15h-3zM1271 666h5v4h-5zM1276 658h3v26h-3zM1275 668h5v16h-5zM1280 677h3v23h-3zM1279 680h5v20h-5zM1283 666h3v31h-3zM1282 666h5v31h-5zM1287 668h3v19h-3zM1286 668h5v17h-5zM1291 667h3v16h-3zM1290 669h5v11h-5zM1295 657h3v15h-3zM1294 661h5v11h-5zM1299 657h3v13h-3zM1298 661h5v3h-5zM1303 656h3v12h-3zM1302 661h5v7h-5zM1307 665h3v37h-3zM1306 665h5v37h-5zM1311 693h3v13h-3zM1310 698h5v4h-5zM1315 696h3v15h-3zM1314 696h5v13h-5zM1318 706h3v12h-3zM1317 706h5v7h-5zM1322 705h3v13h-3zM1321 706h5v12h-5zM1326 715h3v11h-3zM1325 715h5v8h-5zM1330 688h3v16h-3zM1329 689h5v15h-5zM1334 687h3v10h-3zM1333 689h5v8h-5zM1338 687h3v15h-3zM1337 690h5v5h-5zM1342 686h3v12h-3zM1341 688h5v6h-5zM1346 695h3v18h-3zM1345 697h5v13h-5zM1350 704h3v11h-3zM1349 707h5v3h-5zM1353 704h3v14h-3zM1352 707h5v11h-5zM1357 707h3v11h-3zM1356 711h5v7h-5zM1361 688h3v19h-3zM1360 690h5v14h-5zM1365 673h3v22h-3zM1364 677h5v17h-5zM1369 671h3v22h-3zM1368 677h5v16h-5zM1373 686h3v11h-3zM1372 689h5v8h-5zM1377 692h3v17h-3zM1376 696h5v13h-5zM1381 693h3v13h-3zM1380 698h5v8h-5zM1385 687h3v18h-3zM1384 691h5v14h-5zM1388 686h3v12h-3zM1387 691h5v5h-5zM1392 686h3v13h-3zM1391 689h5v10h-5zM1396 692h3v9h-3zM1395 692h5v7h-5zM1400 695h3v11h-3zM1399 695h5v10h-5zM1404 699h3v16h-3zM1403 701h5v14h-5zM1408 711h3v15h-3zM1407 711h5v15h-5zM1412 716h3v10h-3zM1411 723h5v3h-5zM1416 670h3v60h-3zM1415 719h5v7h-5zM1420 721h3v9h-3zM1419 722h5v8h-5zM1423 723h3v19h-3zM1422 727h5v15h-5zM1427 737h3v16h-3zM1426 740h5v13h-5zM1431 744h3v10h-3zM1430 744h5v9h-5zM1435 743h3v23h-3zM1434 743h5v23h-5zM1439 767h3v6h-3zM1438 768h5v4h-5z" fill="#fff"/>
<path d="M9.5 916v2M13.5 916v1M24.5 904v4M24.5 910v2M44.5 904v1M56.5 904v1M71.5 908v1M75.5 907v2M87.5 909v1M149.5 891v1M176.5 880v5M184.5 887v1M192.5 885v1M192.5 888v1M199.5 864v2M203.5 829v15M203.5 854v1M211.5 816v19M223.5 847v1M227.5 813v1M227.5 835v1M238.5 815v2M238.5 819v1M246.5 796v2M262.5 722v6M266.5 724v6M266.5 731v13M273.5 751v28M277.5 750v9M297.5 756v3M304.5 796v21M308.5 763v3M308.5 785v7M332.5 791v5M347.5 833v3M359.5 833v1M363.5 796v17M363.5 835v4M371.5 813v4M371.5 829v2M398.5 833v1M409.5 816v1M417.5 794v1M417.5 801v1M421.5 780v1M421.5 797v1M437.5 776v4M456.5 756v13M464.5 768v2M472.5 761v3M483.5 735v5M483.5 747v1M499.5 770v3M499.5 782v14M514.5 779v1M530.5 802v3M530.5 825v9M542.5 784v4M542.5 789v2M549.5 795v1M604.5 775v3M608.5 755v5M635.5 776v4M635.5 788v1M678.5 771v4M682.5 765v4M689.5 765v6M693.5 759v2M705.5 763v1M709.5 744v2M721.5 716v8M724.5 689v2M724.5 725v3M728.5 682v7M740.5 696v9M740.5 714v16M744.5 694v2M744.5 707v8M748.5 692v2M748.5 696v4M759.5 708v4M759.5 717v5M763.5 696v5M763.5 713v6M771.5 599v3M771.5 668v9M775.5 554v23M775.5 607v22M787.5 526v4M787.5 568v15M791.5 487v26M791.5 531v3M798.5 487v30M798.5 519v12M806.5 536v8M810.5 538v3M822.5 543v7M822.5 558v5M826.5 536v5M826.5 551v5M829.5 470v14M833.5 440v5M833.5 484v8M837.5 403v32M837.5 446v7M841.5 388v39M841.5 439v9M849.5 264v10M861.5 276v12M861.5 347v18M876.5 375v33M876.5 419v23M880.5 379v27M880.5 412v12M892.5 394v2M892.5 433v10M899.5 385v13M899.5 400v27M911.5 361v6M911.5 392v16M927.5 575v66M934.5 504v14M938.5 519v13M942.5 489v3M954.5 450v9M954.5 465v6M958.5 451v3M958.5 460v6M962.5 447v7M977.5 483v13M977.5 522v8M981.5 502v4M985.5 478v9M985.5 491v1M993.5 485v5M993.5 496v5M1016.5 580v24M1032.5 618v4M1032.5 626v12M1036.5 616v6M1036.5 624v11M1039.5 649v6M1039.5 665v4M1043.5 645v1M1043.5 656v12M1063.5 693v5M1063.5 702v2M1074.5 724v8M1074.5 737v8M1078.5 734v3M1078.5 740v1M1082.5 720v1M1113.5 665v19M1113.5 689v1M1121.5 670v6M1137.5 604v4M1137.5 611v8M1141.5 573v1M1148.5 603v1M1148.5 605v21M1152.5 585v17M1168.5 541v4M1172.5 525v8M1183.5 548v4M1183.5 553v14M1195.5 556v2M1195.5 561v19M1211.5 586v10M1238.5 642v2M1238.5 670v2M1257.5 622v3M1257.5 629v9M1261.5 623v2M1261.5 627v3M1273.5 660v7M1273.5 669v4M1292.5 668v2M1292.5 679v3M1296.5 658v4M1312.5 694v5M1312.5 701v4M1331.5 689v1M1339.5 688v3M1339.5 694v7M1343.5 687v2M1343.5 693v4M1358.5 708v4M1362.5 689v2M1362.5 703v3M1366.5 674v4M1366.5 693v1M1386.5 688v4M1389.5 687v5M1389.5 695v2M1397.5 698v2M1413.5 717v7M1417.5 671v49M1417.5 725v4M1432.5 752v1" stroke="#000" fill="none"/>
<path d="M28.5 908v2M36.5 909v1M48.5 905v1M79.5 908v1M83.5 909v1M91.5 909v1M145.5 890v1M161.5 880v2M168.5 887v4M180.5 885v1M188.5 884v1M215.5 825v11M219.5 834v9M219.5 853v3M231.5 812v2M231.5 819v3M234.5 812v3M234.5 820v3M269.5 751v7M281.5 741v1M285.5 741v3M285.5 751v3M289.5 763v7M293.5 759v2M293.5 763v1M301.5 774v4M301.5 796v15M312.5 764v1M312.5 779v1M316.5 772v6M316.5 783v3M324.5 786v3M328.5 798v2M336.5 794v1M339.5 825v7M343.5 820v5M343.5 834v5M351.5 826v4M355.5 824v1M355.5 832v5M367.5 807v6M367.5 833v3M374.5 813v4M374.5 823v2M382.5 829v3M386.5 826v1M386.5 829v4M390.5 827v1M390.5 829v1M406.5 816v1M413.5 817v1M425.5 770v11M425.5 784v8M429.5 776v5M429.5 784v1M441.5 787v3M448.5 774v4M452.5 776v3M460.5 766v3M460.5 774v7M476.5 753v1M476.5 758v3M495.5 783v7M507.5 767v3M511.5 783v4M518.5 774v10M522.5 793v7M526.5 789v3M538.5 791v2M565.5 777v1M565.5 781v1M569.5 786v4M592.5 783v3M612.5 755v7M612.5 764v4M619.5 776v9M631.5 788v3M639.5 778v2M639.5 784v1M686.5 767v1M697.5 758v2M701.5 765v3M713.5 750v4M732.5 694v2M736.5 667v25M779.5 551v27M779.5 582v13M783.5 587v30M794.5 504v10M794.5 518v31M802.5 513v3M802.5 591v66M814.5 532v8M814.5 547v11M818.5 560v17M845.5 291v55M845.5 352v66M853.5 216v58M853.5 298v13M857.5 255v35M857.5 350v7M864.5 228v13M868.5 400v89M872.5 380v15M872.5 420v117M884.5 381v17M884.5 425v36M888.5 414v10M888.5 435v31M896.5 373v21M896.5 399v9M903.5 296v5M903.5 336v4M907.5 392v5M915.5 344v21M915.5 409v25M919.5 469v79M923.5 498v12M923.5 580v26M931.5 502v30M931.5 550v16M946.5 505v7M966.5 443v11M969.5 470v9M969.5 503v9M973.5 489v13M973.5 521v5M989.5 481v6M997.5 489v1M997.5 498v2M1004.5 499v6M1004.5 517v5M1008.5 514v3M1008.5 547v17M1012.5 541v6M1020.5 556v8M1020.5 581v5M1024.5 571v9M1024.5 584v2M1028.5 576v7M1028.5 626v5M1047.5 633v13M1047.5 649v4M1051.5 639v9M1051.5 660v7M1055.5 658v1M1055.5 665v8M1059.5 661v2M1067.5 696v2M1071.5 704v3M1086.5 720v1M1090.5 739v1M1098.5 714v15M1098.5 731v1M1117.5 661v7M1144.5 573v1M1144.5 605v24M1156.5 580v7M1160.5 590v1M1160.5 593v16M1176.5 529v6M1176.5 551v21M1179.5 540v10M1179.5 553v10M1187.5 544v8M1199.5 556v3M1203.5 580v6M1207.5 568v11M1218.5 577v2M1222.5 632v10M1226.5 623v7M1226.5 635v15M1230.5 619v14M1234.5 640v4M1242.5 637v6M1242.5 655v1M1249.5 634v2M1253.5 616v3M1253.5 630v6M1265.5 620v4M1269.5 625v1M1269.5 629v2M1277.5 659v10M1281.5 678v3M1288.5 684v2M1300.5 658v4M1300.5 663v6M1304.5 657v5M1316.5 708v2M1319.5 712v5M1323.5 706v1M1327.5 722v3M1335.5 688v2M1347.5 696v2M1347.5 709v3M1351.5 705v3M1351.5 709v5M1354.5 705v3M1370.5 672v6M1374.5 687v3M1378.5 693v4M1382.5 694v5M1393.5 687v3M1401.5 704v1M1405.5 700v2M1421.5 722v1M1424.5 724v4M1428.5 738v3M1440.5 768v1M1440.5 771v1" stroke="#ff0000" fill="none"/>
<rect x="8.5" y="918.5" width="2" height="2" fill="#fff" stroke="#000"/>
<rect x="16.5" y="914.5" width="2" height="4" fill="#fff" stroke="#000"/>
<rect x="20.5" y="908.5" width="2" height="7" fill="#fff" stroke="#000"/>
<rect x="43.5" y="905.5" width="2" height="5" fill="#fff" stroke="#000"/>
<rect x="62.5" y="905.5" width="2" height="3" fill="#ffb4b4" stroke="#ff0000"/>
<rect x="66.5" y="907.5" width="2" height="3" fill="#ffb4b4" stroke="#ff0000"/>
<rect x="93.5" y="908.5" width="2" height="2" fill="#fff" stroke="#000"/>
<rect x="97.5" y="906.5" width="2" height="3" fill="#fff" stroke="#000"/>
<rect x="109.5" y="906.5" width="2" height="2" fill="#fff" stroke="#000"/>
<rect x="113.5" y="906.5" width="2" height="2" fill="#ffb4b4" stroke="#ff0000"/>
<rect x="136.5" y="901.5" width="2" height="3" fill="#fff" stroke="#000"/>
<rect x="140.5" y="896.5" width="2" height="5" fill="#fff" stroke="#000"/>
<rect x="144.5" y="891.5" width="2" height="3" fill="#ffb4b4" stroke="#ff0000"/>
<rect x="156.5" y="882.5" width="2" height="10" fill="#fff" stroke="#000"/>
<rect x="160.5" y="882.5" width="2" height="2" fill="#ffb4b4" stroke="#ff0000"/>
<rect x="167.5" y="884.5" width="2" height="2" fill="#ffb4b4" stroke="#ff0000"/>
<rect x="183.5" y="884.5" width="2" height="2" fill="#fff" stroke="#000"/>
<rect x="187.5" y="885.5" width="2" height="2" fill="#ffb4b4" stroke="#ff0000"/>
<rect x="195.5" y="882.5" width="2" height="5" fill="#fff" stroke="#000"/>
<rect x="198.5" y="866.5" width="2" height="16" fill="#fff" stroke="#000"/>
<rect x="202.5" y="844.5" width="2" height="9" fill="#fff" stroke="#000"/>
<rect x="206.5" y="839.5" width="2" height="6" fill="#fff" stroke="#000"/>
<rect x="210.5" y="835.5" width="2" height="5" fill="#fff" stroke="#000"/>
<rect x="214.5" y="836.5" width="2" height="8" fill="#ffb4b4" stroke="#ff0000"/>
<rect x="218.5" y="843.5" width="2" height="9" fill="#ffb4b4" stroke="#ff0000"/>
<rect x="222.5" y="833.5" width="2" height="13" fill="#fff" stroke="#000"/>
<rect x="226.5" y="814.5" width="2" height="20" fill="#fff" stroke="#000"/>
<rect x="230.5" y="814.5" width="2" height="4" fill="#ffb4b4" stroke="#ff0000"/>
<rect x="233.5" y="815.5" width="2" height="4" fill="#ffb4b4" stroke="#ff0000"/>
<rect x="241.5" y="806.5" width="2" height="2" fill="#fff" stroke="#000"/>
<rect x="245.5" y="798.5" width="2" height="8" fill="#fff" stroke="#000"/>
<rect x="249.5" y="798.5" width="2" height="4" fill="#ffb4b4" stroke="#ff0000"/>
<rect x="253.5" y="800.5" width="2" height="2" fill="#fff" stroke="#000"/>
<rect x="257.5" y="790.5" width="2" height="9" fill="#fff" stroke="#000"/>
<rect x="261.5" y="728.5" width="2" height="32" fill="#fff" stroke="#000"/>
<rect x="268.5" y="730.5" width="2" height="20" fill="#ffb4b4" stroke="#ff0000"/>
<rect x="272.5" y="748.5" width="2" height="2" fill="#fff" stroke="#000"/>
<rect x="276.5" y="744.5" width="2" height="5" fill="#fff" stroke="#000"/>
<rect x="280.5" y="742.5" width="2" height="3" fill="#ffb4b4" stroke="#ff0000"/>
<rect x="284.5" y="744.5" width="2" height="6" fill="#ffb4b4" stroke="#ff0000"/>
<rect x="288.5" y="749.5" width="2" height="13" fill="#ffb4b4" stroke="#ff0000"/>
<rect x="296.5" y="759.5" width="2" height="3" fill="#fff" stroke="#000"/>
<rect x="300.5" y="778.5" width="2" height="17" fill="#ffb4b4" stroke="#ff0000"/>
<rect x="303.5" y="783.5" width="2" height="12" fill="#fff" stroke="#000"/>
<rect x="307.5" y="766.5" width="2" height="18" fill="#fff" stroke="#000"/>
<rect x="311.5" y="765.5" width="2" height="13" fill="#ffb4b4" stroke="#ff0000"/>
<rect x="315.5" y="778.5" width="2" height="4" fill="#ffb4b4" stroke="#ff0000"/>
<rect x="319.5" y="786.5" width="2" height="3" fill="#ffb4b4" stroke="#ff0000"/>
<rect x="323.5" y="789.5" width="2" height="5" fill="#ffb4b4" stroke="#ff0000"/>
<rect x="327.5" y="793.5" width="2" height="4" fill="#ffb4b4" stroke="#ff0000"/>
<rect x="335.5" y="795.5" width="2" height="12" fill="#ffb4b4" stroke="#ff0000"/>
<rect x="338.5" y="809.5" width="2" height="15" fill="#ffb4b4" stroke="#ff0000"/>
<rect x="342.5" y="825.5" width="2" height="8" fill="#ffb4b4" stroke="#ff0000"/>
<rect x="346.5" y="815.5" width="2" height="17" fill="#fff" stroke="#000"/>
<rect x="350.5" y="814.5" width="2" height="11" fill="#ffb4b4" stroke="#ff0000"/>
<rect x="354.5" y="825.5" width="2" height="6" fill="#ffb4b4" stroke="#ff0000"/>
<rect x="358.5" y="834.5" width="2" height="18" fill="#fff" stroke="#000"/>
<rect x="362.5" y="813.5" width="2" height="21" fill="#fff" stroke="#000"/>
<rect x="366.5" y="813.5" width="2" height="19" fill="#ffb4b4" stroke="#ff0000"/>
<rect x="370.5" y="817.5" width="2" height="11" fill="#fff" stroke="#000"/>
<rect x="373.5" y="817.5" width="2" height="5" fill="#ffb4b4" stroke="#ff0000"/>
<rect x="381.5" y="818.5" width="2" height="10" fill="#ffb4b4" stroke="#ff0000"/>
<rect x="393.5" y="828.5" width="2" height="7" fill="#ffb4b4" stroke="#ff0000"/>
<rect x="397.5" y="828.5" width="2" height="4" fill="#fff" stroke="#000"/>
<rect x="401.5" y="817.5" width="2" height="11" fill="#fff" stroke="#000"/>
<rect x="405.5" y="817.5" width="2" height="4" fill="#ffb4b4" stroke="#ff0000"/>
<rect x="408.5" y="817.5" width="2" height="3" fill="#fff" stroke="#000"/>
<rect x="412.5" y="818.5" width="2" height="2" fill="#ffb4b4" stroke="#ff0000"/>
<rect x="416.5" y="795.5" width="2" height="5" fill="#fff" stroke="#000"/>
<rect x="420.5" y="781.5" width="2" height="15" fill="#fff" stroke="#000"/>
<rect x="424.5" y="781.5" width="2" height="2" fill="#ffb4b4" stroke="#ff0000"/>
<rect x="428.5" y="781.5" width="2" height="2" fill="#ffb4b4" stroke="#ff0000"/>
<rect x="432.5" y="776.5" width="2" height="8" fill="#fff" stroke="#000"/>
<rect x="436.5" y="780.5" width="2" height="2" fill="#fff" stroke="#000"/>
<rect x="440.5" y="780.5" width="2" height="6" fill="#ffb4b4" stroke="#ff0000"/>
<rect x="443.5" y="779.5" width="2" height="7" fill="#fff" stroke="#000"/>
<rect x="447.5" y="778.5" width="2" height="2" fill="#ffb4b4" stroke="#ff0000"/>
<rect x="451.5" y="779.5" width="2" height="4" fill="#ffb4b4" stroke="#ff0000"/>
<rect x="455.5" y="769.5" width="2" height="11" fill="#fff" stroke="#000"/>
<rect x="459.5" y="769.5" width="2" height="4" fill="#ffb4b4" stroke="#ff0000"/>
<rect x="463.5" y="770.5" width="2" height="2" fill="#fff" stroke="#000"/>
<rect x="467.5" y="767.5" width="2" height="5" fill="#fff" stroke="#000"/>
<rect x="471.5" y="764.5" width="2" height="4" fill="#fff" stroke="#000"/>
<rect x="475.5" y="754.5" width="2" height="3" fill="#ffb4b4" stroke="#ff0000"/>
<rect x="478.5" y="744.5" width="2" height="13" fill="#fff" stroke="#000"/>
<rect x="482.5" y="740.5" width="2" height="6" fill="#fff" stroke="#000"/>
<rect x="486.5" y="736.5" width="2" height="4" fill="#fff" stroke="#000"/>
<rect x="490.5" y="734.5" width="2" height="4" fill="#fff" stroke="#000"/>
<rect x="494.5" y="756.5" width="2" height="26" fill="#ffb4b4" stroke="#ff0000"/>
<rect x="498.5" y="773.5" width="2" height="8" fill="#fff" stroke="#000"/>
<rect x="502.5" y="762.5" width="2" height="11" fill="#fff" stroke="#000"/>
<rect x="506.5" y="763.5" width="2" height="3" fill="#ffb4b4" stroke="#ff0000"/>
<rect x="510.5" y="765.5" width="2" height="17" fill="#ffb4b4" stroke="#ff0000"/>
<rect x="513.5" y="780.5" width="2" height="6" fill="#fff" stroke="#000"/>
<rect x="521.5" y="784.5" width="2" height="8" fill="#ffb4b4" stroke="#ff0000"/>
<rect x="525.5" y="792.5" width="2" height="32" fill="#ffb4b4" stroke="#ff0000"/>
<rect x="529.5" y="805.5" width="2" height="19" fill="#fff" stroke="#000"/>
<rect x="533.5" y="783.5" width="2" height="22" fill="#fff" stroke="#000"/>
<rect x="537.5" y="782.5" width="2" height="8" fill="#ffb4b4" stroke="#ff0000"/>
<rect x="545.5" y="788.5" width="2" height="14" fill="#ffb4b4" stroke="#ff0000"/>
<rect x="548.5" y="796.5" width="2" height="6" fill="#fff" stroke="#000"/>
<rect x="552.5" y="784.5" width="2" height="5" fill="#fff" stroke="#000"/>
<rect x="556.5" y="784.5" width="2" height="2" fill="#ffb4b4" stroke="#ff0000"/>
<rect x="560.5" y="777.5" width="2" height="9" fill="#fff" stroke="#000"/>
<rect x="564.5" y="778.5" width="2" height="2" fill="#ffb4b4" stroke="#ff0000"/>
<rect x="568.5" y="780.5" width="2" height="5" fill="#ffb4b4" stroke="#ff0000"/>
<rect x="572.5" y="778.5" width="2" height="4" fill="#ffb4b4" stroke="#ff0000"/>
<rect x="576.5" y="782.5" width="2" height="3" fill="#ffb4b4" stroke="#ff0000"/>
<rect x="580.5" y="781.5" width="2" height="4" fill="#ffb4b4" stroke="#ff0000"/>
<rect x="583.5" y="782.5" width="2" height="3" fill="#fff" stroke="#000"/>
<rect x="587.5" y="775.5" width="2" height="7" fill="#fff" stroke="#000"/>
<rect x="591.5" y="775.5" width="2" height="7" fill="#ffb4b4" stroke="#ff0000"/>
<rect x="595.5" y="779.5" width="2" height="3" fill="#fff" stroke="#000"/>
<rect x="607.5" y="760.5" width="2" height="20" fill="#fff" stroke="#000"/>
<rect x="615.5" y="763.5" width="2" height="10" fill="#ffb4b4" stroke="#ff0000"/>
<rect x="618.5" y="772.5" width="2" height="3" fill="#ffb4b4" stroke="#ff0000"/>
<rect x="622.5" y="773.5" width="2" height="4" fill="#ffb4b4" stroke="#ff0000"/>
<rect x="626.5" y="777.5" width="2" height="2" fill="#ffb4b4" stroke="#ff0000"/>
<rect x="630.5" y="782.5" width="2" height="5" fill="#ffb4b4" stroke="#ff0000"/>
<rect x="634.5" y="780.5" width="2" height="7" fill="#fff" stroke="#000"/>
<rect x="638.5" y="780.5" width="2" height="3" fill="#ffb4b4" stroke="#ff0000"/>
<rect x="642.5" y="780.5" width="2" height="2" fill="#ffb4b4" stroke="#ff0000"/>
<rect x="646.5" y="780.5" width="2" height="2" fill="#fff" stroke="#000"/>
<rect x="650.5" y="774.5" width="2" height="3" fill="#fff" stroke="#000"/>
<rect x="653.5" y="775.5" width="2" height="2" fill="#ffb4b4" stroke="#ff0000"/>
<rect x="657.5" y="777.5" width="2" height="8" fill="#ffb4b4" stroke="#ff0000"/>
<rect x="661.5" y="784.5" width="2" height="4" fill="#ffb4b4" stroke="#ff0000"/>
<rect x="665.5" y="777.5" width="2" height="9" fill="#fff" stroke="#000"/>
<rect x="669.5" y="780.5" width="2" height="2" fill="#fff" stroke="#000"/>
<rect x="673.5" y="780.5" width="2" height="3" fill="#ffb4b4" stroke="#ff0000"/>
<rect x="677.5" y="775.5" width="2" height="8" fill="#fff" stroke="#000"/>
<rect x="681.5" y="769.5" width="2" height="6" fill="#fff" stroke="#000"/>
<rect x="685.5" y="768.5" width="2" height="14" fill="#ffb4b4" stroke="#ff0000"/>
<rect x="688.5" y="771.5" width="2" height="5" fill="#fff" stroke="#000"/>
<rect x="692.5" y="761.5" width="2" height="10" fill="#fff" stroke="#000"/>
<rect x="696.5" y="760.5" width="2" height="4" fill="#ffb4b4" stroke="#ff0000"/>
<rect x="708.5" y="746.5" width="2" height="6" fill="#fff" stroke="#000"/>
<rect x="712.5" y="746.5" width="2" height="3" fill="#ffb4b4" stroke="#ff0000"/>
<rect x="716.5" y="740.5" width="2" height="9" fill="#fff" stroke="#000"/>
<rect x="720.5" y="724.5" width="2" height="16" fill="#fff" stroke="#000"/>
<rect x="723.5" y="691.5" width="2" height="33" fill="#fff" stroke="#000"/>
<rect x="727.5" y="689.5" width="2" height="5" fill="#fff" stroke="#000"/>
<rect x="731.5" y="689.5" width="2" height="4" fill="#ffb4b4" stroke="#ff0000"/>
<rect x="735.5" y="692.5" width="2" height="24" fill="#ffb4b4" stroke="#ff0000"/>
<rect x="739.5" y="705.5" width="2" height="8" fill="#fff" stroke="#000"/>
<rect x="743.5" y="696.5" width="2" height="10" fill="#fff" stroke="#000"/>
<rect x="751.5" y="693.5" width="2" height="5" fill="#ffb4b4" stroke="#ff0000"/>
<rect x="755.5" y="698.5" width="2" height="19" fill="#ffb4b4" stroke="#ff0000"/>
<rect x="758.5" y="712.5" width="2" height="4" fill="#fff" stroke="#000"/>
<rect x="762.5" y="701.5" width="2" height="11" fill="#fff" stroke="#000"/>
<rect x="766.5" y="671.5" width="2" height="38" fill="#fff" stroke="#000"/>
<rect x="770.5" y="602.5" width="2" height="65" fill="#fff" stroke="#000"/>
<rect x="774.5" y="577.5" width="2" height="29" fill="#fff" stroke="#000"/>
<rect x="778.5" y="578.5" width="2" height="3" fill="#ffb4b4" stroke="#ff0000"/>
<rect x="782.5" y="580.5" width="2" height="6" fill="#ffb4b4" stroke="#ff0000"/>
<rect x="786.5" y="530.5" width="2" height="37" fill="#fff" stroke="#000"/>
<rect x="790.5" y="513.5" width="2" height="17" fill="#fff" stroke="#000"/>
<rect x="793.5" y="514.5" width="2" height="3" fill="#ffb4b4" stroke="#ff0000"/>
<rect x="801.5" y="516.5" width="2" height="74" fill="#ffb4b4" stroke="#ff0000"/>
<rect x="805.5" y="544.5" width="2" height="34" fill="#fff" stroke="#000"/>
<rect x="809.5" y="541.5" width="2" height="5" fill="#fff" stroke="#000"/>
<rect x="813.5" y="540.5" width="2" height="6" fill="#ffb4b4" stroke="#ff0000"/>
<rect x="817.5" y="547.5" width="2" height="12" fill="#ffb4b4" stroke="#ff0000"/>
<rect x="821.5" y="550.5" width="2" height="7" fill="#fff" stroke="#000"/>
<rect x="825.5" y="541.5" width="2" height="9" fill="#fff" stroke="#000"/>
<rect x="828.5" y="484.5" width="2" height="57" fill="#fff" stroke="#000"/>
<rect x="832.5" y="445.5" width="2" height="38" fill="#fff" stroke="#000"/>
<rect x="836.5" y="435.5" width="2" height="10" fill="#fff" stroke="#000"/>
<rect x="840.5" y="427.5" width="2" height="11" fill="#fff" stroke="#000"/>
<rect x="844.5" y="346.5" width="2" height="5" fill="#ffb4b4" stroke="#ff0000"/>
<rect x="848.5" y="274.5" width="2" height="79" fill="#fff" stroke="#000"/>
<rect x="852.5" y="274.5" width="2" height="23" fill="#ffb4b4" stroke="#ff0000"/>
<rect x="856.5" y="290.5" width="2" height="59" fill="#ffb4b4" stroke="#ff0000"/>
<rect x="860.5" y="288.5" width="2" height="58" fill="#fff" stroke="#000"/>
<rect x="863.5" y="241.5" width="2" height="37" fill="#ffb4b4" stroke="#ff0000"/>
<rect x="867.5" y="278.5" width="2" height="121" fill="#ffb4b4" stroke="#ff0000"/>
<rect x="871.5" y="395.5" width="2" height="24" fill="#ffb4b4" stroke="#ff0000"/>
<rect x="875.5" y="408.5" width="2" height="10" fill="#fff" stroke="#000"/>
<rect x="879.5" y="406.5" width="2" height="5" fill="#fff" stroke="#000"/>
<rect x="883.5" y="398.5" width="2" height="26" fill="#ffb4b4" stroke="#ff0000"/>
<rect x="887.5" y="424.5" width="2" height="10" fill="#ffb4b4" stroke="#ff0000"/>
<rect x="891.5" y="396.5" width="2" height="36" fill="#fff" stroke="#000"/>
<rect x="895.5" y="394.5" width="2" height="4" fill="#ffb4b4" stroke="#ff0000"/>
<rect x="902.5" y="301.5" width="2" height="34" fill="#ffb4b4" stroke="#ff0000"/>
<rect x="906.5" y="333.5" width="2" height="58" fill="#ffb4b4" stroke="#ff0000"/>
<rect x="910.5" y="367.5" width="2" height="24" fill="#fff" stroke="#000"/>
<rect x="914.5" y="365.5" width="2" height="43" fill="#ffb4b4" stroke="#ff0000"/>
<rect x="918.5" y="408.5" width="2" height="60" fill="#ffb4b4" stroke="#ff0000"/>
<rect x="922.5" y="510.5" width="2" height="69" fill="#ffb4b4" stroke="#ff0000"/>
<rect x="926.5" y="530.5" width="2" height="44" fill="#fff" stroke="#000"/>
<rect x="930.5" y="532.5" width="2" height="17" fill="#ffb4b4" stroke="#ff0000"/>
<rect x="933.5" y="518.5" width="2" height="31" fill="#fff" stroke="#000"/>
<rect x="937.5" y="485.5" width="2" height="33" fill="#fff" stroke="#000"/>
<rect x="941.5" y="492.5" width="2" height="26" fill="#fff" stroke="#000"/>
<rect x="945.5" y="492.5" width="2" height="12" fill="#ffb4b4" stroke="#ff0000"/>
<rect x="949.5" y="464.5" width="2" height="41" fill="#fff" stroke="#000"/>
<rect x="953.5" y="459.5" width="2" height="5" fill="#fff" stroke="#000"/>
<rect x="957.5" y="454.5" width="2" height="5" fill="#fff" stroke="#000"/>
<rect x="961.5" y="454.5" width="2" height="11" fill="#fff" stroke="#000"/>
<rect x="965.5" y="454.5" width="2" height="25" fill="#ffb4b4" stroke="#ff0000"/>
<rect x="968.5" y="479.5" width="2" height="23" fill="#ffb4b4" stroke="#ff0000"/>
<rect x="972.5" y="502.5" width="2" height="18" fill="#ffb4b4" stroke="#ff0000"/>
<rect x="976.5" y="496.5" width="2" height="25" fill="#fff" stroke="#000"/>
<rect x="980.5" y="490.5" width="2" height="11" fill="#fff" stroke="#000"/>
<rect x="984.5" y="487.5" width="2" height="3" fill="#fff" stroke="#000"/>
<rect x="988.5" y="487.5" width="2" height="8" fill="#ffb4b4" stroke="#ff0000"/>
<rect x="992.5" y="490.5" width="2" height="5" fill="#fff" stroke="#000"/>
<rect x="996.5" y="490.5" width="2" height="7" fill="#ffb4b4" stroke="#ff0000"/>
<rect x="1000.5" y="496.5" width="2" height="2" fill="#ffb4b4" stroke="#ff0000"/>
<rect x="1003.5" y="505.5" width="2" height="11" fill="#ffb4b4" stroke="#ff0000"/>
<rect x="1007.5" y="517.5" width="2" height="29" fill="#ffb4b4" stroke="#ff0000"/>
<rect x="1011.5" y="547.5" width="2" height="32" fill="#ffb4b4" stroke="#ff0000"/>
<rect x="1015.5" y="571.5" width="2" height="8" fill="#fff" stroke="#000"/>
<rect x="1019.5" y="564.5" width="2" height="16" fill="#ffb4b4" stroke="#ff0000"/>
<rect x="1023.5" y="580.5" width="2" height="3" fill="#ffb4b4" stroke="#ff0000"/>
<rect x="1027.5" y="583.5" width="2" height="42" fill="#ffb4b4" stroke="#ff0000"/>
<rect x="1031.5" y="622.5" width="2" height="3" fill="#fff" stroke="#000"/>
<rect x="1038.5" y="655.5" width="2" height="9" fill="#fff" stroke="#000"/>
<rect x="1042.5" y="646.5" width="2" height="9" fill="#fff" stroke="#000"/>
<rect x="1046.5" y="646.5" width="2" height="2" fill="#ffb4b4" stroke="#ff0000"/>
<rect x="1050.5" y="648.5" width="2" height="11" fill="#ffb4b4" stroke="#ff0000"/>
<rect x="1054.5" y="659.5" width="2" height="5" fill="#ffb4b4" stroke="#ff0000"/>
<rect x="1058.5" y="663.5" width="2" height="29" fill="#ffb4b4" stroke="#ff0000"/>
<rect x="1062.5" y="698.5" width="2" height="3" fill="#fff" stroke="#000"/>
<rect x="1066.5" y="698.5" width="2" height="9" fill="#ffb4b4" stroke="#ff0000"/>
<rect x="1070.5" y="707.5" width="2" height="29" fill="#ffb4b4" stroke="#ff0000"/>
<rect x="1073.5" y="732.5" width="2" height="4" fill="#fff" stroke="#000"/>
<rect x="1077.5" y="737.5" width="2" height="2" fill="#fff" stroke="#000"/>
<rect x="1081.5" y="721.5" width="2" height="16" fill="#fff" stroke="#000"/>
<rect x="1085.5" y="721.5" width="2" height="20" fill="#ffb4b4" stroke="#ff0000"/>
<rect x="1089.5" y="740.5" width="2" height="2" fill="#ffb4b4" stroke="#ff0000"/>
<rect x="1093.5" y="738.5" width="2" height="4" fill="#ffb4b4" stroke="#ff0000"/>
<rect x="1101.5" y="724.5" width="2" height="7" fill="#fff" stroke="#000"/>
<rect x="1105.5" y="719.5" width="2" height="5" fill="#fff" stroke="#000"/>
<rect x="1108.5" y="688.5" width="2" height="31" fill="#fff" stroke="#000"/>
<rect x="1112.5" y="684.5" width="2" height="4" fill="#fff" stroke="#000"/>
<rect x="1116.5" y="668.5" width="2" height="9" fill="#ffb4b4" stroke="#ff0000"/>
<rect x="1124.5" y="668.5" width="2" height="8" fill="#fff" stroke="#000"/>
<rect x="1128.5" y="648.5" width="2" height="20" fill="#fff" stroke="#000"/>
<rect x="1132.5" y="630.5" width="2" height="19" fill="#fff" stroke="#000"/>
<rect x="1136.5" y="608.5" width="2" height="2" fill="#fff" stroke="#000"/>
<rect x="1140.5" y="574.5" width="2" height="35" fill="#fff" stroke="#000"/>
<rect x="1143.5" y="574.5" width="2" height="30" fill="#ffb4b4" stroke="#ff0000"/>
<rect x="1151.5" y="602.5" width="2" height="2" fill="#fff" stroke="#000"/>
<rect x="1155.5" y="587.5" width="2" height="5" fill="#ffb4b4" stroke="#ff0000"/>
<rect x="1163.5" y="584.5" width="2" height="9" fill="#fff" stroke="#000"/>
<rect x="1167.5" y="545.5" width="2" height="40" fill="#fff" stroke="#000"/>
<rect x="1171.5" y="533.5" width="2" height="12" fill="#fff" stroke="#000"/>
<rect x="1175.5" y="535.5" width="2" height="15" fill="#ffb4b4" stroke="#ff0000"/>
<rect x="1178.5" y="550.5" width="2" height="2" fill="#ffb4b4" stroke="#ff0000"/>
<rect x="1186.5" y="552.5" width="2" height="5" fill="#ffb4b4" stroke="#ff0000"/>
<rect x="1190.5" y="557.5" width="2" height="36" fill="#ffb4b4" stroke="#ff0000"/>
<rect x="1194.5" y="558.5" width="2" height="2" fill="#fff" stroke="#000"/>
<rect x="1198.5" y="559.5" width="2" height="12" fill="#ffb4b4" stroke="#ff0000"/>
<rect x="1202.5" y="571.5" width="2" height="8" fill="#ffb4b4" stroke="#ff0000"/>
<rect x="1206.5" y="579.5" width="2" height="6" fill="#ffb4b4" stroke="#ff0000"/>
<rect x="1210.5" y="582.5" width="2" height="3" fill="#fff" stroke="#000"/>
<rect x="1213.5" y="568.5" width="2" height="11" fill="#ffb4b4" stroke="#ff0000"/>
<rect x="1217.5" y="579.5" width="2" height="21" fill="#ffb4b4" stroke="#ff0000"/>
<rect x="1221.5" y="600.5" width="2" height="31" fill="#ffb4b4" stroke="#ff0000"/>
<rect x="1225.5" y="630.5" width="2" height="4" fill="#ffb4b4" stroke="#ff0000"/>
<rect x="1229.5" y="633.5" width="2" height="4" fill="#ffb4b4" stroke="#ff0000"/>
<rect x="1233.5" y="644.5" width="2" height="25" fill="#ffb4b4" stroke="#ff0000"/>
<rect x="1237.5" y="644.5" width="2" height="25" fill="#fff" stroke="#000"/>
<rect x="1241.5" y="643.5" width="2" height="11" fill="#ffb4b4" stroke="#ff0000"/>
<rect x="1245.5" y="636.5" width="2" height="18" fill="#fff" stroke="#000"/>
<rect x="1248.5" y="636.5" width="2" height="7" fill="#ffb4b4" stroke="#ff0000"/>
<rect x="1252.5" y="619.5" width="2" height="10" fill="#ffb4b4" stroke="#ff0000"/>
<rect x="1256.5" y="625.5" width="2" height="3" fill="#fff" stroke="#000"/>
<rect x="1264.5" y="624.5" width="2" height="2" fill="#ffb4b4" stroke="#ff0000"/>
<rect x="1268.5" y="626.5" width="2" height="2" fill="#ffb4b4" stroke="#ff0000"/>
<rect x="1276.5" y="669.5" width="2" height="13" fill="#ffb4b4" stroke="#ff0000"/>
<rect x="1280.5" y="681.5" width="2" height="17" fill="#ffb4b4" stroke="#ff0000"/>
<rect x="1283.5" y="667.5" width="2" height="28" fill="#fff" stroke="#000"/>
<rect x="1287.5" y="669.5" width="2" height="14" fill="#ffb4b4" stroke="#ff0000"/>
<rect x="1291.5" y="670.5" width="2" height="8" fill="#fff" stroke="#000"/>
<rect x="1295.5" y="662.5" width="2" height="8" fill="#fff" stroke="#000"/>
<rect x="1303.5" y="662.5" width="2" height="4" fill="#ffb4b4" stroke="#ff0000"/>
<rect x="1307.5" y="666.5" width="2" height="34" fill="#ffb4b4" stroke="#ff0000"/>
<rect x="1315.5" y="697.5" width="2" height="10" fill="#ffb4b4" stroke="#ff0000"/>
<rect x="1318.5" y="707.5" width="2" height="4" fill="#ffb4b4" stroke="#ff0000"/>
<rect x="1322.5" y="707.5" width="2" height="9" fill="#ffb4b4" stroke="#ff0000"/>
<rect x="1326.5" y="716.5" width="2" height="5" fill="#ffb4b4" stroke="#ff0000"/>
<rect x="1330.5" y="690.5" width="2" height="12" fill="#fff" stroke="#000"/>
<rect x="1334.5" y="690.5" width="2" height="5" fill="#ffb4b4" stroke="#ff0000"/>
<rect x="1338.5" y="691.5" width="2" height="2" fill="#fff" stroke="#000"/>
<rect x="1342.5" y="689.5" width="2" height="3" fill="#fff" stroke="#000"/>
<rect x="1346.5" y="698.5" width="2" height="10" fill="#ffb4b4" stroke="#ff0000"/>
<rect x="1353.5" y="708.5" width="2" height="8" fill="#ffb4b4" stroke="#ff0000"/>
<rect x="1357.5" y="712.5" width="2" height="4" fill="#fff" stroke="#000"/>
<rect x="1361.5" y="691.5" width="2" height="11" fill="#fff" stroke="#000"/>
<rect x="1365.5" y="678.5" width="2" height="14" fill="#fff" stroke="#000"/>
<rect x="1369.5" y="678.5" width="2" height="13" fill="#ffb4b4" stroke="#ff0000"/>
<rect x="1373.5" y="690.5" width="2" height="5" fill="#ffb4b4" stroke="#ff0000"/>
<rect x="1377.5" y="697.5" width="2" height="10" fill="#ffb4b4" stroke="#ff0000"/>
<rect x="1381.5" y="699.5" width="2" height="5" fill="#ffb4b4" stroke="#ff0000"/>
<rect x="1385.5" y="692.5" width="2" height="11" fill="#fff" stroke="#000"/>
<rect x="1388.5" y="692.5" width="2" height="2" fill="#fff" stroke="#000"/>
<rect x="1392.5" y="690.5" width="2" height="7" fill="#ffb4b4" stroke="#ff0000"/>
<rect x="1396.5" y="693.5" width="2" height="4" fill="#fff" stroke="#000"/>
<rect x="1400.5" y="696.5" width="2" height="7" fill="#ffb4b4" stroke="#ff0000"/>
<rect x="1404.5" y="702.5" width="2" height="11" fill="#ffb4b4" stroke="#ff0000"/>
<rect x="1408.5" y="712.5" width="2" height="12" fill="#ffb4b4" stroke="#ff0000"/>
<rect x="1416.5" y="720.5" width="2" height="4" fill="#fff" stroke="#000"/>
<rect x="1420.5" y="723.5" width="2" height="5" fill="#ffb4b4" stroke="#ff0000"/>
<rect x="1423.5" y="728.5" width="2" height="12" fill="#ffb4b4" stroke="#ff0000"/>
<rect x="1427.5" y="741.5" width="2" height="10" fill="#ffb4b4" stroke="#ff0000"/>
<rect x="1431.5" y="745.5" width="2" height="6" fill="#fff" stroke="#000"/>
<rect x="1435.5" y="744.5" width="2" height="20" fill="#ffb4b4" stroke="#ff0000"/>
<path d="M4 923h3v1h-3zM12 917h3v2h-3zM23 908h3v2h-3zM39 910h3v2h-3zM51 906h3v2h-3zM55 905h3v2h-3zM70 909h3v2h-3zM74 909h3v2h-3zM86 910h3v2h-3zM117 906h3v2h-3zM125 906h3v2h-3zM132 905h3v2h-3zM148 892h3v2h-3zM152 892h3v1h-3zM175 885h3v2h-3zM191 886h3v2h-3zM237 817h3v2h-3zM265 730h3v1h-3zM331 796h3v1h-3zM541 788h3v1h-3zM599 778h3v2h-3zM603 778h3v1h-3zM704 764h3v2h-3zM747 694h3v2h-3zM797 517h3v2h-3zM898 398h3v2h-3zM1035 622h3v2h-3zM1120 676h3v1h-3zM1147 604h3v1h-3zM1182 552h3v1h-3zM1260 625h3v2h-3zM1272 667h3v2h-3zM1311 699h3v2h-3zM1412 724h3v1h-3z" fill="#000"/>
<path d="M27 910h3v1h-3zM31 910h3v1h-3zM35 910h3v2h-3zM47 906h3v1h-3zM58 905h3v2h-3zM78 909h3v2h-3zM82 910h3v2h-3zM90 910h3v2h-3zM101 907h3v2h-3zM105 907h3v2h-3zM121 906h3v2h-3zM128 906h3v2h-3zM163 884h3v2h-3zM171 886h3v2h-3zM179 886h3v2h-3zM292 761h3v2h-3zM377 817h3v2h-3zM385 827h3v2h-3zM389 828h3v1h-3zM517 784h3v2h-3zM611 762h3v2h-3zM700 763h3v2h-3zM1097 729h3v2h-3zM1159 591h3v2h-3zM1299 662h3v1h-3zM1350 708h3v1h-3zM1439 769h3v2h-3z" fill="#ff0000"/>
</g>
<path d="M133 214.5h4M137 213.5h7M144 212.5h7M157 211.5h1M158 210.5h6M164 209.5h7M171 208.5h4M181 207.5h4M185 206.5h7M192 205.5h7M205 204.5h1M206 203.5h6M212 202.5h7M219 201.5h4M229 200.5h4M233 199.5h7M240 198.5h7M253 197.5h1M254 196.5h6M260 195.5h7M267 194.5h4M277 193.5h4M281 192.5h7M288 191.5h7M301 190.5h1M302 189.5h7M309 188.5h6M315 187.5h4M325 186.5h4M329 185.5h7M336 184.5h7M349 183.5h1M350 182.5h7M357 181.5h6M363 180.5h4M373 179.5h4M377 178.5h7M384 177.5h7M397 176.5h1M398 175.5h7M405 174.5h6M411 173.5h4M421 172.5h4M425 171.5h7M432 170.5h7M445 169.5h1M446 168.5h7M453 167.5h7M460 166.5h3M469 165.5h4M473 164.5h7M480 163.5h7M493 162.5h1M494 161.5h7M501 160.5h7M508 159.5h3M517 158.5h4M521 157.5h7M528 156.5h7M541 155.5h1M542 154.5h7M549 153.5h7M556 152.5h3M565 151.5h4M569 150.5h7M576 149.5h7M589 148.5h1M590 147.5h7M597 146.5h7M604 145.5h3M613 144.5h4M617 143.5h7M624 142.5h7M637 141.5h1M638 140.5h7M645 139.5h7M652 138.5h3M661 137.5h4M665 136.5h7M672 135.5h7M685 134.5h1M686 133.5h7M693 132.5h7M700 131.5h3M709 130.5h4M713 129.5h7M720 128.5h7M733 127.5h1M734 126.5h7M741 125.5h7M748 124.5h3M757 123.5h4M761 122.5h7M768 121.5h7M781 120.5h1M782 119.5h7M789 118.5h7M796 117.5h3M805 116.5h5M810 115.5h6M816 114.5h7M829 113.5h1M830 112.5h7M837 111.5h7M844 110.5h3M853 109.5h5M858 108.5h6M864 107.5h7M877 106.5h1M878 105.5h7M885 104.5h7M892 103.5h3M901 102.5h5M906 101.5h6M912 100.5h7M925 99.5h1M926 98.5h7M933 97.5h7M940 96.5h3M949 95.5h5M954 94.5h7M961 93.5h6M973 92.5h1M974 91.5h7M981 90.5h7M988 89.5h3M997 88.5h5M1002 87.5h7M1009 86.5h6M1021 85.5h1M1022 84.5h7M1029 83.5h7M1036 82.5h3M1045 81.5h5M1050 80.5h7M1057 79.5h6M1069 78.5h1M1070 77.5h7M1077 76.5h7M1084 75.5h3" stroke="#a8a8a8" stroke-width="1" fill="none"/>
<path d="M853 903.5h3M856 902.5h6M862 901.5h6M868 900.5h3M877 899.5h2M879 898.5h6M885 897.5h6M891 896.5h4M901 895.5h1M902 894.5h6M908 893.5h6M914 892.5h5M925 890.5h6M931 889.5h6M937 888.5h6M949 886.5h5M954 885.5h6M960 884.5h6M966 883.5h1M973 882.5h4M977 881.5h6M983 880.5h6M989 879.5h2M997 878.5h3M1000 877.5h6M1006 876.5h6M1012 875.5h3M1021 874.5h2M1023 873.5h6M1029 872.5h6M1035 871.5h4M1045 870.5h1M1046 869.5h6M1052 868.5h6M1058 867.5h5M1069 865.5h6M1075 864.5h6M1081 863.5h5M1086 862.5h1M1093 861.5h5M1098 860.5h6M1104 859.5h5M1109 858.5h2M1117 857.5h4M1121 856.5h6M1127 855.5h5M1132 854.5h3M1141 853.5h3M1144 852.5h6M1150 851.5h5M1155 850.5h4M1165 849.5h2M1167 848.5h6M1173 847.5h5M1178 846.5h5M1189 845.5h1M1190 844.5h6M1196 843.5h5M1201 842.5h6M1213 840.5h6M1219 839.5h5M1224 838.5h6M1230 837.5h1M1237 836.5h5M1242 835.5h5M1247 834.5h6M1253 833.5h2M1261 832.5h4M1265 831.5h5M1270 830.5h6M1276 829.5h3M1285 828.5h3M1288 827.5h5M1293 826.5h6M1299 825.5h4M1309 824.5h2M1311 823.5h5M1316 822.5h6M1322 821.5h5M1333 820.5h1M1334 819.5h5M1339 818.5h6M1345 817.5h6M1357 815.5h5M1362 814.5h6M1368 813.5h6M1374 812.5h1M1381 811.5h4M1385 810.5h6M1391 809.5h6M1397 808.5h2M1405 807.5h3M1408 806.5h6M1414 805.5h6M1420 804.5h3M1429 803.5h2M1431 802.5h6M1437 801.5h6M1443 800.5h4M1453 799.5h1M1454 798.5h6M1460 797.5h6M1466 796.5h5M1477 794.5h6M1483 793.5h6M1489 792.5h6M1501 790.5h5M1506 789.5h6M1512 788.5h6M1518 787.5h1M1525 786.5h4M1529 785.5h6M1535 784.5h6M1541 783.5h2M1549 782.5h3M1552 781.5h6M1558 780.5h6M1564 779.5h3M1573 778.5h2M1575 777.5h6M1581 776.5h6M1587 775.5h4M1597 774.5h1M1598 773.5h6M1604 772.5h6M1610 771.5h5M1621 769.5h6M1627 768.5h6M1633 767.5h5M1638 766.5h1M1645 765.5h5M1650 764.5h6M1656 763.5h5M1661 762.5h2M1669 761.5h4M1673 760.5h6M1679 759.5h5M1684 758.5h3M1693 757.5h3M1696 756.5h6M1702 755.5h5M1707 754.5h4M1717 753.5h2M1719 752.5h6M1725 751.5h5M1730 750.5h5M1741 749.5h1M1742 748.5h6M1748 747.5h5M1753 746.5h6M1765 744.5h6M1771 743.5h3" stroke="#a8a8a8" stroke-width="1" fill="none"/>
<path d="M138 904.5h1M139 903.5h1M140 902.5h1M141 901.5h1M142 900.5h1M143 899.5h1M144 898.5h1M145 897.5h1M146 896.5h1M147 895.5h1M148 894.5h1M149 893.5h1M150 892.5h1M151 891.5h1M152 890.5h1M153 889.5h1M154 888.5h1M161 881.5h1M162 880.5h1M163 879.5h2M165 878.5h1M166 877.5h1M167 876.5h1M168 875.5h1M169 874.5h1M170 873.5h1M171 872.5h1M172 871.5h1M173 870.5h1M174 869.5h1M175 868.5h1M176 867.5h1M177 866.5h1M178 865.5h1M185 858.5h1M186 857.5h1M187 856.5h1M188 855.5h1M189 854.5h1M190 853.5h2M192 852.5h1M193 851.5h1M194 850.5h1M195 849.5h1M196 848.5h1M197 847.5h1M198 846.5h1M199 845.5h1M200 844.5h1M201 843.5h1M202 842.5h1M209 835.5h1M210 834.5h1M211 833.5h1M212 832.5h1M213 831.5h1M214 830.5h1M215 829.5h1M216 828.5h2M218 827.5h1M219 826.5h1M220 825.5h1M221 824.5h1M222 823.5h1M223 822.5h1M224 821.5h1M225 820.5h1M226 819.5h1M233 812.5h1M234 811.5h1M235 810.5h1M236 809.5h1M237 808.5h1M238 807.5h1M239 806.5h1M240 805.5h1M241 804.5h1M242 803.5h1M243 802.5h2M245 801.5h1M246 800.5h1M247 799.5h1M248 798.5h1M249 797.5h1M250 796.5h1M257 789.5h1M258 788.5h1M259 787.5h1M260 786.5h1M261 785.5h1M262 784.5h1M263 783.5h1M264 782.5h1M265 781.5h1M266 780.5h1M267 779.5h1M268 778.5h1M269 777.5h2M271 776.5h1M272 775.5h1M273 774.5h1M274 773.5h1M281 766.5h1M282 765.5h1M283 764.5h1M284 763.5h1M285 762.5h1M286 761.5h1M287 760.5h1M288 759.5h1M289 758.5h1M290 757.5h1M291 756.5h1M292 755.5h1M293 754.5h1M294 753.5h1M295 752.5h1M296 751.5h2M298 750.5h1M305 743.5h1M306 742.5h1M307 741.5h1M308 740.5h1M309 739.5h1M310 738.5h1M311 737.5h1M312 736.5h1M313 735.5h1M314 734.5h1M315 733.5h1M316 732.5h1M317 731.5h1M318 730.5h1M319 729.5h1M320 728.5h1M321 727.5h1M322 726.5h1M329 720.5h1M330 719.5h1M331 718.5h1M332 717.5h1M333 716.5h1M334 715.5h1M335 714.5h1M336 713.5h1M337 712.5h1M338 711.5h1M339 710.5h1M340 709.5h1M341 708.5h1M342 707.5h1M343 706.5h1M344 705.5h1M345 704.5h1M346 703.5h1M353 697.5h1M354 696.5h1M355 695.5h1M356 694.5h1M357 693.5h1M358 692.5h1M359 691.5h1M360 690.5h1M361 689.5h1M362 688.5h1M363 687.5h1M364 686.5h1M365 685.5h1M366 684.5h1M367 683.5h1M368 682.5h1M369 681.5h1M370 680.5h1M377 674.5h1M378 673.5h1M379 672.5h1M380 671.5h1M381 670.5h1M382 669.5h1M383 668.5h1M384 667.5h1M385 666.5h1M386 665.5h1M387 664.5h1M388 663.5h1M389 662.5h1M390 661.5h1M391 660.5h1M392 659.5h1M393 658.5h1M394 657.5h1M401 650.5h1M402 649.5h2M404 648.5h1M405 647.5h1M406 646.5h1M407 645.5h1M408 644.5h1M409 643.5h1M410 642.5h1M411 641.5h1M412 640.5h1M413 639.5h1M414 638.5h1M415 637.5h1M416 636.5h1M417 635.5h1M418 634.5h1M425 627.5h1M426 626.5h1M427 625.5h1M428 624.5h2M430 623.5h1M431 622.5h1M432 621.5h1M433 620.5h1M434 619.5h1M435 618.5h1M436 617.5h1M437 616.5h1M438 615.5h1M439 614.5h1M440 613.5h1M441 612.5h1M442 611.5h1M449 604.5h1M450 603.5h1M451 602.5h1M452 601.5h1M453 600.5h1M454 599.5h1M455 598.5h2M457 597.5h1M458 596.5h1M459 595.5h1M460 594.5h1M461 593.5h1M462 592.5h1M463 591.5h1M464 590.5h1M465 589.5h1M466 588.5h1M473 581.5h1M474 580.5h1M475 579.5h1M476 578.5h1M477 577.5h1M478 576.5h1M479 575.5h1M480 574.5h1M481 573.5h2M483 572.5h1M484 571.5h1M485 570.5h1M486 569.5h1M487 568.5h1M488 567.5h1M489 566.5h1M490 565.5h1M497 558.5h1M498 557.5h1M499 556.5h1M500 555.5h1M501 554.5h1M502 553.5h1M503 552.5h1M504 551.5h1M505 550.5h1M506 549.5h1M507 548.5h1M508 547.5h2M510 546.5h1M511 545.5h1M512 544.5h1M513 543.5h1M514 542.5h1M521 535.5h1M522 534.5h1M523 533.5h1M524 532.5h1M525 531.5h1M526 530.5h1M527 529.5h1M528 528.5h1M529 527.5h1M530 526.5h1M531 525.5h1M532 524.5h1M533 523.5h1M534 522.5h2M536 521.5h1M537 520.5h1M538 519.5h1M545 512.5h1M546 511.5h1M547 510.5h1M548 509.5h1M549 508.5h1M550 507.5h1M551 506.5h1M552 505.5h1M553 504.5h1M554 503.5h1M555 502.5h1M556 501.5h1M557 500.5h1M558 499.5h1M559 498.5h1M560 497.5h1M561 496.5h2M569 489.5h1M570 488.5h1M571 487.5h1M572 486.5h1M573 485.5h1M574 484.5h1M575 483.5h1M576 482.5h1M577 481.5h1M578 480.5h1M579 479.5h1M580 478.5h1M581 477.5h1M582 476.5h1M583 475.5h1M584 474.5h1M585 473.5h1M586 472.5h1M593 466.5h1M594 465.5h1M595 464.5h1M596 463.5h1M597 462.5h1M598 461.5h1M599 460.5h1M600 459.5h1M601 458.5h1M602 457.5h1M603 456.5h1M604 455.5h1M605 454.5h1M606 453.5h1M607 452.5h1M608 451.5h1M609 450.5h1M610 449.5h1M617 443.5h1M618 442.5h1M619 441.5h1M620 440.5h1M621 439.5h1M622 438.5h1M623 437.5h1M624 436.5h1M625 435.5h1M626 434.5h1M627 433.5h1M628 432.5h1M629 431.5h1M630 430.5h1M631 429.5h1M632 428.5h1M633 427.5h1M634 426.5h1M641 420.5h1M642 419.5h1M643 418.5h1M644 417.5h1M645 416.5h1M646 415.5h1M647 414.5h1M648 413.5h1M649 412.5h1M650 411.5h1M651 410.5h1M652 409.5h1M653 408.5h1M654 407.5h1M655 406.5h1M656 405.5h1M657 404.5h1M658 403.5h1M665 396.5h1M666 395.5h1M667 394.5h2M669 393.5h1M670 392.5h1M671 391.5h1M672 390.5h1M673 389.5h1M674 388.5h1M675 387.5h1M676 386.5h1M677 385.5h1M678 384.5h1M679 383.5h1M680 382.5h1M681 381.5h1M682 380.5h1M689 373.5h1M690 372.5h1M691 371.5h1M692 370.5h1M693 369.5h2M695 368.5h1M696 367.5h1M697 366.5h1M698 365.5h1M699 364.5h1M700 363.5h1M701 362.5h1M702 361.5h1M703 360.5h1M704 359.5h1M705 358.5h1M706 357.5h1M713 350.5h1M714 349.5h1M715 348.5h1M716 347.5h1M717 346.5h1M718 345.5h1M719 344.5h1M720 343.5h2M722 342.5h1M723 341.5h1M724 340.5h1M725 339.5h1M726 338.5h1M727 337.5h1M728 336.5h1M729 335.5h1M730 334.5h1M737 327.5h1M738 326.5h1M739 325.5h1M740 324.5h1M741 323.5h1M742 322.5h1M743 321.5h1M744 320.5h1M745 319.5h1M746 318.5h2M748 317.5h1M749 316.5h1M750 315.5h1M751 314.5h1M752 313.5h1M753 312.5h1M754 311.5h1M761 304.5h1M762 303.5h1M763 302.5h1M764 301.5h1M765 300.5h1M766 299.5h1M767 298.5h1M768 297.5h1M769 296.5h1M770 295.5h1M771 294.5h1M772 293.5h1M773 292.5h2M775 291.5h1M776 290.5h1M777 289.5h1M778 288.5h1M785 281.5h1M786 280.5h1M787 279.5h1M788 278.5h1M789 277.5h1M790 276.5h1M791 275.5h1M792 274.5h1M793 273.5h1M794 272.5h1M795 271.5h1M796 270.5h1M797 269.5h1M798 268.5h1M799 267.5h2M801 266.5h1M802 265.5h1M809 258.5h1M810 257.5h1M811 256.5h1M812 255.5h1M813 254.5h1M814 253.5h1M815 252.5h1M816 251.5h1M817 250.5h1M818 249.5h1M819 248.5h1M820 247.5h1M821 246.5h1M822 245.5h1M823 244.5h1M824 243.5h1M825 242.5h1M826 241.5h1M833 235.5h1M834 234.5h1M835 233.5h1M836 232.5h1M837 231.5h1M838 230.5h1M839 229.5h1M840 228.5h1M841 227.5h1M842 226.5h1M843 225.5h1M844 224.5h1M845 223.5h1M846 222.5h1M847 221.5h1M848 220.5h1M849 219.5h1M850 218.5h1" stroke="#e0d400" stroke-width="1" fill="none"/>
<path d="M1093 743.5h1M1094 742.5h1M1095 741.5h1M1096 740.5h1M1097 739.5h1M1098 738.5h1M1099 737.5h1M1100 736.5h1M1101 735.5h1M1102 734.5h1M1103 733.5h1M1104 732.5h1M1105 731.5h1M1106 730.5h1M1107 729.5h1M1114 722.5h1M1115 721.5h1M1116 720.5h1M1117 719.5h1M1118 718.5h1M1119 717.5h1M1120 716.5h1M1121 715.5h1M1122 714.5h1M1123 713.5h1M1124 712.5h1M1125 711.5h1M1126 710.5h1M1127 709.5h1M1128 708.5h1M1129 707.5h1M1130 706.5h1M1131 705.5h1M1138 699.5h1M1139 698.5h1M1140 697.5h1M1141 696.5h1M1142 695.5h1M1143 694.5h1M1144 693.5h1M1145 692.5h1M1146 691.5h1M1147 690.5h1M1148 689.5h1M1149 688.5h1M1150 687.5h1M1151 686.5h1M1152 685.5h1M1153 684.5h1M1154 683.5h1M1155 682.5h1M1162 675.5h1M1163 674.5h1M1164 673.5h1M1165 672.5h1M1166 671.5h1M1167 670.5h1M1168 669.5h1M1169 668.5h2M1171 667.5h1M1172 666.5h1M1173 665.5h1M1174 664.5h1M1175 663.5h1M1176 662.5h1M1177 661.5h1M1178 660.5h1M1179 659.5h1M1186 652.5h1M1187 651.5h1M1188 650.5h1M1189 649.5h1M1190 648.5h1M1191 647.5h1M1192 646.5h1M1193 645.5h1M1194 644.5h1M1195 643.5h1M1196 642.5h1M1197 641.5h1M1198 640.5h1M1199 639.5h1M1200 638.5h1M1201 637.5h1M1202 636.5h1M1203 635.5h1M1210 629.5h1M1211 628.5h1M1212 627.5h1M1213 626.5h1M1214 625.5h1M1215 624.5h1M1216 623.5h1M1217 622.5h1M1218 621.5h1M1219 620.5h1M1220 619.5h1M1221 618.5h1M1222 617.5h1M1223 616.5h1M1224 615.5h1M1225 614.5h1M1226 613.5h1M1227 612.5h1M1234 605.5h1M1235 604.5h1M1236 603.5h1M1237 602.5h1M1238 601.5h1M1239 600.5h1M1240 599.5h1M1241 598.5h1M1242 597.5h1M1243 596.5h1M1244 595.5h1M1245 594.5h2M1247 593.5h1M1248 592.5h1M1249 591.5h1M1250 590.5h1M1251 589.5h1M1258 582.5h1M1259 581.5h1M1260 580.5h1M1261 579.5h1M1262 578.5h1M1263 577.5h1M1264 576.5h1M1265 575.5h1M1266 574.5h1M1267 573.5h1M1268 572.5h1M1269 571.5h1M1270 570.5h1M1271 569.5h1M1272 568.5h1M1273 567.5h1M1274 566.5h1M1275 565.5h1M1282 558.5h1M1283 557.5h2M1285 556.5h1M1286 555.5h1M1287 554.5h1M1288 553.5h1M1289 552.5h1M1290 551.5h1M1291 550.5h1M1292 549.5h1M1293 548.5h1M1294 547.5h1M1295 546.5h1M1296 545.5h1M1297 544.5h1M1298 543.5h1M1299 542.5h1M1306 535.5h1M1307 534.5h1M1308 533.5h1M1309 532.5h1M1310 531.5h1M1311 530.5h1M1312 529.5h1M1313 528.5h1M1314 527.5h1M1315 526.5h1M1316 525.5h1M1317 524.5h1M1318 523.5h1M1319 522.5h1M1320 521.5h1M1321 520.5h2M1323 519.5h1M1330 512.5h1M1331 511.5h1M1332 510.5h1M1333 509.5h1M1334 508.5h1M1335 507.5h1M1336 506.5h1M1337 505.5h1M1338 504.5h1M1339 503.5h1M1340 502.5h1M1341 501.5h1M1342 500.5h1M1343 499.5h1M1344 498.5h1M1345 497.5h1M1346 496.5h1M1347 495.5h1M1354 488.5h1M1355 487.5h1M1356 486.5h1M1357 485.5h1M1358 484.5h1M1359 483.5h2M1361 482.5h1M1362 481.5h1M1363 480.5h1M1364 479.5h1M1365 478.5h1M1366 477.5h1M1367 476.5h1M1368 475.5h1M1369 474.5h1M1370 473.5h1M1371 472.5h1M1378 465.5h1M1379 464.5h1M1380 463.5h1M1381 462.5h1M1382 461.5h1M1383 460.5h1M1384 459.5h1M1385 458.5h1M1386 457.5h1M1387 456.5h1M1388 455.5h1M1389 454.5h1M1390 453.5h1M1391 452.5h1M1392 451.5h1M1393 450.5h1M1394 449.5h1M1395 448.5h1M1402 442.5h1M1403 441.5h1M1404 440.5h1M1405 439.5h1M1406 438.5h1M1407 437.5h1M1408 436.5h1M1409 435.5h1M1410 434.5h1M1411 433.5h1M1412 432.5h1M1413 431.5h1M1414 430.5h1M1415 429.5h1M1416 428.5h1M1417 427.5h1M1418 426.5h1M1419 425.5h1M1426 418.5h1M1427 417.5h1M1428 416.5h1M1429 415.5h1M1430 414.5h1M1431 413.5h1M1432 412.5h1M1433 411.5h1M1434 410.5h1M1435 409.5h2M1437 408.5h1M1438 407.5h1M1439 406.5h1M1440 405.5h1M1441 404.5h1M1442 403.5h1M1443 402.5h1M1450 395.5h1M1451 394.5h1M1452 393.5h1M1453 392.5h1M1454 391.5h1M1455 390.5h1M1456 389.5h1M1457 388.5h1M1458 387.5h1M1459 386.5h1M1460 385.5h1M1461 384.5h1M1462 383.5h1M1463 382.5h1M1464 381.5h1M1465 380.5h1M1466 379.5h1M1467 378.5h1M1474 372.5h1M1475 371.5h1M1476 370.5h1M1477 369.5h1M1478 368.5h1M1479 367.5h1M1480 366.5h1M1481 365.5h1M1482 364.5h1M1483 363.5h1M1484 362.5h1M1485 361.5h1M1486 360.5h1M1487 359.5h1M1488 358.5h1M1489 357.5h1M1490 356.5h1M1491 355.5h1M1498 348.5h1M1499 347.5h1M1500 346.5h1M1501 345.5h1M1502 344.5h1M1503 343.5h1M1504 342.5h1M1505 341.5h1M1506 340.5h1M1507 339.5h1M1508 338.5h1M1509 337.5h1M1510 336.5h1M1511 335.5h2M1513 334.5h1M1514 333.5h1M1515 332.5h1M1522 325.5h1M1523 324.5h1M1524 323.5h1M1525 322.5h1M1526 321.5h1M1527 320.5h1M1528 319.5h1M1529 318.5h1M1530 317.5h1M1531 316.5h1M1532 315.5h1M1533 314.5h1M1534 313.5h1M1535 312.5h1M1536 311.5h1M1537 310.5h1M1538 309.5h1M1539 308.5h1M1546 301.5h1M1547 300.5h1M1548 299.5h1M1549 298.5h2M1551 297.5h1M1552 296.5h1M1553 295.5h1M1554 294.5h1M1555 293.5h1M1556 292.5h1M1557 291.5h1M1558 290.5h1M1559 289.5h1M1560 288.5h1M1561 287.5h1M1562 286.5h1M1563 285.5h1M1570 278.5h1M1571 277.5h1M1572 276.5h1M1573 275.5h1M1574 274.5h1M1575 273.5h1M1576 272.5h1M1577 271.5h1M1578 270.5h1M1579 269.5h1M1580 268.5h1M1581 267.5h1M1582 266.5h1M1583 265.5h1M1584 264.5h1M1585 263.5h1M1586 262.5h1M1587 261.5h1M1594 255.5h1M1595 254.5h1M1596 253.5h1M1597 252.5h1M1598 251.5h1M1599 250.5h1M1600 249.5h1M1601 248.5h1M1602 247.5h1M1603 246.5h1M1604 245.5h1M1605 244.5h1M1606 243.5h1M1607 242.5h1M1608 241.5h1M1609 240.5h1M1610 239.5h1M1611 238.5h1M1618 231.5h1M1619 230.5h1M1620 229.5h1M1621 228.5h1M1622 227.5h1M1623 226.5h1M1624 225.5h1M1625 224.5h2M1627 223.5h1M1628 222.5h1M1629 221.5h1M1630 220.5h1M1631 219.5h1M1632 218.5h1M1633 217.5h1M1634 216.5h1M1635 215.5h1M1642 208.5h1M1643 207.5h1M1644 206.5h1M1645 205.5h1M1646 204.5h1M1647 203.5h1M1648 202.5h1M1649 201.5h1M1650 200.5h1M1651 199.5h1M1652 198.5h1M1653 197.5h1M1654 196.5h1M1655 195.5h1M1656 194.5h1M1657 193.5h1M1658 192.5h1M1659 191.5h1M1666 185.5h1M1667 184.5h1M1668 183.5h1M1669 182.5h1M1670 181.5h1M1671 180.5h1M1672 179.5h1M1673 178.5h1M1674 177.5h1M1675 176.5h1M1676 175.5h1M1677 174.5h1M1678 173.5h1M1679 172.5h1M1680 171.5h1M1681 170.5h1M1682 169.5h1M1683 168.5h1M1690 161.5h1M1691 160.5h1M1692 159.5h1M1693 158.5h1M1694 157.5h1M1695 156.5h1M1696 155.5h1M1697 154.5h1M1698 153.5h1M1699 152.5h1M1700 151.5h1M1701 150.5h2M1703 149.5h1M1704 148.5h1M1705 147.5h1M1706 146.5h1M1707 145.5h1M1714 138.5h1M1715 137.5h1M1716 136.5h1M1717 135.5h1M1718 134.5h1M1719 133.5h1M1720 132.5h1M1721 131.5h1M1722 130.5h1M1723 129.5h1M1724 128.5h1M1725 127.5h1M1726 126.5h1M1727 125.5h1M1728 124.5h1M1729 123.5h1M1730 122.5h1M1731 121.5h1M1738 114.5h1M1739 113.5h2M1741 112.5h1M1742 111.5h1M1743 110.5h1M1744 109.5h1M1745 108.5h1M1746 107.5h1M1747 106.5h1M1748 105.5h1M1749 104.5h1M1750 103.5h1M1751 102.5h1M1752 101.5h1M1753 100.5h1M1754 99.5h1M1755 98.5h1M1762 91.5h1M1763 90.5h1M1764 89.5h1M1765 88.5h1M1766 87.5h1M1767 86.5h1M1768 85.5h1M1769 84.5h1M1770 83.5h1M1771 82.5h1M1772 81.5h1M1773 80.5h1M1774 79.5h1M1775 78.5h1M1776 77.5h1M1777 76.5h2M1779 75.5h1M1786 68.5h1M1787 67.5h1M1788 66.5h1M1789 65.5h1M1790 64.5h1M1791 63.5h1M1792 62.5h1M1793 61.5h1M1794 60.5h1M1795 59.5h1M1796 58.5h1M1797 57.5h1" stroke="#e0d400" stroke-width="1" fill="none"/>
<path d="M852.5 216v2M851.5 218v2M850.5 220v2M849.5 222v2M848.5 224v2M847.5 226v1M846.5 227v2M845.5 229v1M842.5 236v1M841.5 237v2M840.5 239v2M839.5 241v2M838.5 243v2M837.5 245v2M836.5 247v1M835.5 248v2M834.5 250v2M833.5 252v2M829.5 260v2M828.5 262v2M827.5 264v2M826.5 266v2M825.5 268v1M824.5 269v2M823.5 271v2M822.5 273v2M821.5 275v2M820.5 277v1M817.5 284v1M816.5 285v2M815.5 287v2M814.5 289v1M813.5 290v2M812.5 292v2M811.5 294v2M810.5 296v2M809.5 298v2M808.5 300v2M804.5 308v2M803.5 310v1M802.5 311v2M801.5 313v2M800.5 315v2M799.5 317v2M798.5 319v2M797.5 321v2M796.5 323v2M795.5 325v1M791.5 332v2M790.5 334v2M789.5 336v2M788.5 338v2M787.5 340v2M786.5 342v2M785.5 344v2M784.5 346v2M783.5 348v2M779.5 356v1M778.5 357v2M777.5 359v2M776.5 361v2M775.5 363v2M774.5 365v2M773.5 367v2M772.5 369v2M771.5 371v1M770.5 372v2M766.5 380v2M765.5 382v2M764.5 384v2M763.5 386v2M762.5 388v2M761.5 390v2M760.5 392v1M759.5 393v2M758.5 395v2M757.5 397v1M754.5 404v1M753.5 405v2M752.5 407v2M751.5 409v2M750.5 411v2M749.5 413v1M748.5 414v2M747.5 416v2M746.5 418v2M745.5 420v2M741.5 428v2M740.5 430v2M739.5 432v2M738.5 434v1M737.5 435v2M736.5 437v2M735.5 439v2M734.5 441v2M733.5 443v2M732.5 445v1M729.5 452v1M728.5 453v2M727.5 455v1M726.5 456v2M725.5 458v2M724.5 460v2M723.5 462v2M722.5 464v2M721.5 466v2M720.5 468v2M716.5 476v1M715.5 477v2M714.5 479v2M713.5 481v2M712.5 483v2M711.5 485v2M710.5 487v2M709.5 489v2M708.5 491v2M707.5 493v1M703.5 500v2M702.5 502v2M701.5 504v2M700.5 506v2M699.5 508v2M698.5 510v2M697.5 512v2M696.5 514v2M695.5 516v2M691.5 524v1M690.5 525v2M689.5 527v2M688.5 529v2M687.5 531v2M686.5 533v2M685.5 535v2M684.5 537v1M683.5 538v2M682.5 540v2M678.5 548v2M677.5 550v2M676.5 552v2M675.5 554v2M674.5 556v2M673.5 558v1M672.5 559v2M671.5 561v2M670.5 563v2M669.5 565v1M666.5 572v1M665.5 573v2M664.5 575v2M663.5 577v2M662.5 579v1M661.5 580v2M660.5 582v2M659.5 584v2M658.5 586v2M657.5 588v2M653.5 596v2M652.5 598v2M651.5 600v1M650.5 601v2M649.5 603v2M648.5 605v2M647.5 607v2M646.5 609v2M645.5 611v2M644.5 613v1M641.5 620v1M640.5 621v1M639.5 622v2M638.5 624v2M637.5 626v2M636.5 628v2M635.5 630v2M634.5 632v2M633.5 634v2M632.5 636v2M628.5 644v1M627.5 645v2M626.5 647v2M625.5 649v2M624.5 651v2M623.5 653v2M622.5 655v2M621.5 657v2M620.5 659v2M619.5 661v1M615.5 668v2M614.5 670v2M613.5 672v2M612.5 674v2M611.5 676v2M610.5 678v2M609.5 680v2M608.5 682v2M607.5 684v1M606.5 685v1M603.5 692v1M602.5 693v2M601.5 695v2M600.5 697v2M599.5 699v2M598.5 701v2M597.5 703v2M596.5 705v1M595.5 706v2M594.5 708v2M590.5 716v2M589.5 718v2M588.5 720v2M587.5 722v2M586.5 724v2M585.5 726v1M584.5 727v2M583.5 729v2M582.5 731v2M581.5 733v1M578.5 740v1M577.5 741v2M576.5 743v2M575.5 745v1M574.5 746v2M573.5 748v2M572.5 750v2M571.5 752v2M570.5 754v2M569.5 756v2M565.5 764v2M564.5 766v1M563.5 767v2M562.5 769v2M561.5 771v2M560.5 773v2M559.5 775v2M558.5 777v2M557.5 779v2M556.5 781v1M552.5 788v2M551.5 790v2M550.5 792v2M549.5 794v2M548.5 796v2M547.5 798v2M546.5 800v2M545.5 802v2M544.5 804v2M540.5 812v1M539.5 813v2M538.5 815v2M537.5 817v2M536.5 819v2M535.5 821v2M534.5 823v2M533.5 825v2M532.5 827v2M531.5 829v1" stroke="#00f000" stroke-width="1" fill="none"/>
<path d="M1409.5 127v1M1408.5 128v2M1407.5 130v2M1406.5 132v2M1405.5 134v2M1404.5 136v2M1403.5 138v2M1402.5 140v2M1398.5 148v1M1397.5 149v2M1396.5 151v2M1395.5 153v2M1394.5 155v2M1393.5 157v2M1392.5 159v2M1391.5 161v2M1390.5 163v2M1389.5 165v1M1386.5 172v1M1385.5 173v2M1384.5 175v2M1383.5 177v2M1382.5 179v2M1381.5 181v2M1380.5 183v2M1379.5 185v2M1378.5 187v2M1377.5 189v1M1373.5 196v2M1372.5 198v2M1371.5 200v2M1370.5 202v2M1369.5 204v2M1368.5 206v2M1367.5 208v2M1366.5 210v2M1365.5 212v2M1361.5 220v2M1360.5 222v2M1359.5 224v2M1358.5 226v2M1357.5 228v2M1356.5 230v2M1355.5 232v2M1354.5 234v2M1353.5 236v2M1349.5 244v1M1348.5 245v2M1347.5 247v2M1346.5 249v2M1345.5 251v2M1344.5 253v2M1343.5 255v2M1342.5 257v2M1341.5 259v2M1340.5 261v1M1337.5 268v1M1336.5 269v2M1335.5 271v2M1334.5 273v2M1333.5 275v2M1332.5 277v2M1331.5 279v2M1330.5 281v2M1329.5 283v1M1328.5 284v2M1324.5 292v2M1323.5 294v2M1322.5 296v2M1321.5 298v2M1320.5 300v2M1319.5 302v2M1318.5 304v2M1317.5 306v2M1316.5 308v2M1312.5 316v2M1311.5 318v2M1310.5 320v2M1309.5 322v2M1308.5 324v2M1307.5 326v2M1306.5 328v1M1305.5 329v2M1304.5 331v2M1303.5 333v1M1300.5 340v1M1299.5 341v2M1298.5 343v2M1297.5 345v2M1296.5 347v2M1295.5 349v2M1294.5 351v2M1293.5 353v2M1292.5 355v2M1291.5 357v1M1288.5 364v1M1287.5 365v2M1286.5 367v2M1285.5 369v2M1284.5 371v2M1283.5 373v2M1282.5 375v1M1281.5 376v2M1280.5 378v2M1279.5 380v2M1275.5 388v2M1274.5 390v2M1273.5 392v2M1272.5 394v2M1271.5 396v2M1270.5 398v2M1269.5 400v2M1268.5 402v2M1267.5 404v2M1263.5 412v2M1262.5 414v2M1261.5 416v2M1260.5 418v2M1259.5 420v1M1258.5 421v2M1257.5 423v2M1256.5 425v2M1255.5 427v2M1254.5 429v1M1251.5 436v1M1250.5 437v2M1249.5 439v2M1248.5 441v2M1247.5 443v2M1246.5 445v2M1245.5 447v2M1244.5 449v2M1243.5 451v2M1242.5 453v1M1239.5 460v1M1238.5 461v2M1237.5 463v2M1236.5 465v2M1235.5 467v1M1234.5 468v2M1233.5 470v2M1232.5 472v2M1231.5 474v2M1230.5 476v2M1226.5 484v2M1225.5 486v2M1224.5 488v2M1223.5 490v2M1222.5 492v2M1221.5 494v2M1220.5 496v2M1219.5 498v2M1218.5 500v2M1214.5 508v2M1213.5 510v2M1212.5 512v1M1211.5 513v2M1210.5 515v2M1209.5 517v2M1208.5 519v2M1207.5 521v2M1206.5 523v2M1205.5 525v1M1202.5 532v1M1201.5 533v2M1200.5 535v2M1199.5 537v2M1198.5 539v2M1197.5 541v2M1196.5 543v2M1195.5 545v2M1194.5 547v2M1193.5 549v1M1190.5 556v1M1189.5 557v1M1188.5 558v2M1187.5 560v2M1186.5 562v2M1185.5 564v2M1184.5 566v2M1183.5 568v2M1182.5 570v2M1181.5 572v2M1177.5 580v2M1176.5 582v2M1175.5 584v2M1174.5 586v2M1173.5 588v2M1172.5 590v2M1171.5 592v2M1170.5 594v2M1169.5 596v2M1165.5 604v1M1164.5 605v2M1163.5 607v2M1162.5 609v2M1161.5 611v2M1160.5 613v2M1159.5 615v2M1158.5 617v2M1157.5 619v2M1156.5 621v1M1153.5 628v1M1152.5 629v2M1151.5 631v2M1150.5 633v2M1149.5 635v2M1148.5 637v2M1147.5 639v2M1146.5 641v2M1145.5 643v2M1144.5 645v1M1140.5 652v2M1139.5 654v2M1138.5 656v2M1137.5 658v2M1136.5 660v2M1135.5 662v2M1134.5 664v2M1133.5 666v2M1132.5 668v2M1128.5 676v2M1127.5 678v2M1126.5 680v2M1125.5 682v2M1124.5 684v2M1123.5 686v2M1122.5 688v2M1121.5 690v2M1120.5 692v2M1116.5 700v1M1115.5 701v2M1114.5 703v2M1113.5 705v2M1112.5 707v2M1111.5 709v2M1110.5 711v2M1109.5 713v2M1108.5 715v2M1107.5 717v1M1104.5 724v1M1103.5 725v2M1102.5 727v2M1101.5 729v2M1100.5 731v2M1099.5 733v2M1098.5 735v2M1097.5 737v2M1096.5 739v2M1095.5 741v1" stroke="#00f000" stroke-width="1" fill="none"/>
<path d="M864 228.5h1M865 229.5h1M866 230.5h1M870 234.5h1M871 235.5h1M872 236.5h1M876 240.5h2M878 241.5h1M882 245.5h1M883 246.5h1M884 247.5h1M888 251.5h1M889 252.5h1M890 253.5h1M894 257.5h1M895 258.5h1M896 259.5h1M900 263.5h1M901 264.5h1M902 265.5h1M906 268.5h1M907 269.5h1M908 270.5h1M912 274.5h1M913 275.5h1M914 276.5h1M918 280.5h1M919 281.5h1M920 282.5h1M924 286.5h1M925 287.5h1M926 288.5h1M930 291.5h1M931 292.5h1M932 293.5h1M936 297.5h1M937 298.5h1M938 299.5h1M942 303.5h1M943 304.5h1M944 305.5h1M948 309.5h1M949 310.5h1M950 311.5h1M954 314.5h1M955 315.5h1M956 316.5h1M960 320.5h1M961 321.5h1M962 322.5h1M966 326.5h1M967 327.5h1M968 328.5h1M972 332.5h1M973 333.5h1M974 334.5h1M978 338.5h1M979 339.5h2M984 343.5h1M985 344.5h1M986 345.5h1M990 349.5h1M991 350.5h1M992 351.5h1M996 355.5h1M997 356.5h1M998 357.5h1M1002 361.5h1M1003 362.5h1M1004 363.5h1M1008 366.5h1M1009 367.5h1M1010 368.5h1M1014 372.5h1M1015 373.5h1M1016 374.5h1M1020 378.5h1M1021 379.5h1M1022 380.5h1M1026 384.5h1M1027 385.5h1M1028 386.5h1M1032 389.5h1M1033 390.5h1M1034 391.5h1M1038 395.5h1M1039 396.5h1M1040 397.5h1M1044 401.5h1M1045 402.5h1M1046 403.5h1M1050 407.5h1M1051 408.5h1M1052 409.5h1M1056 413.5h2M1058 414.5h1M1062 418.5h1M1063 419.5h1M1064 420.5h1M1068 424.5h1M1069 425.5h1M1070 426.5h1M1074 430.5h1M1075 431.5h1M1076 432.5h1M1080 436.5h1M1081 437.5h1M1082 438.5h1M1086 441.5h1M1087 442.5h1M1088 443.5h1M1092 447.5h1M1093 448.5h1M1094 449.5h1M1098 453.5h1M1099 454.5h1M1100 455.5h1M1104 459.5h1M1105 460.5h1M1106 461.5h1M1110 464.5h1M1111 465.5h1M1112 466.5h1M1116 470.5h1M1117 471.5h1M1118 472.5h1M1122 476.5h1M1123 477.5h1M1124 478.5h1M1128 482.5h1M1129 483.5h1M1130 484.5h1M1134 487.5h1M1135 488.5h1M1136 489.5h1M1140 493.5h1M1141 494.5h1M1142 495.5h1M1146 499.5h1M1147 500.5h1M1148 501.5h1M1152 505.5h1M1153 506.5h1M1154 507.5h1M1158 511.5h1M1159 512.5h2M1164 516.5h1M1165 517.5h1M1166 518.5h1M1170 522.5h1M1171 523.5h1M1172 524.5h1" stroke="#ff6464" stroke-width="1" fill="none"/>
<path d="M1172 524.5h1M1173 525.5h1M1174 526.5h1M1178 530.5h1M1179 531.5h1M1180 532.5h1M1184 536.5h1M1185 537.5h1M1186 538.5h1M1190 542.5h1M1191 543.5h1M1192 544.5h1M1196 548.5h1M1197 549.5h1M1198 550.5h1M1202 554.5h1M1203 555.5h1M1204 556.5h1M1208 560.5h1M1209 561.5h1M1210 562.5h1M1214 566.5h1M1215 567.5h1M1216 568.5h1M1220 572.5h1M1221 573.5h1M1222 574.5h1M1226 578.5h2M1228 579.5h1M1232 583.5h1M1233 584.5h1M1234 585.5h1M1238 589.5h1M1239 590.5h1M1240 591.5h1M1244 595.5h1M1245 596.5h1M1246 597.5h1M1250 601.5h1M1251 602.5h1M1252 603.5h1M1256 607.5h1M1257 608.5h1M1258 609.5h1M1262 613.5h1M1263 614.5h1M1264 615.5h1M1268 619.5h1M1269 620.5h1M1270 621.5h1M1274 625.5h1M1275 626.5h1M1276 627.5h1M1280 631.5h1M1281 632.5h1M1282 633.5h1M1286 637.5h1M1287 638.5h1M1288 639.5h1M1292 643.5h1M1293 644.5h1M1294 645.5h1M1298 649.5h1M1299 650.5h1M1300 651.5h1M1304 655.5h1M1305 656.5h1M1306 657.5h1M1310 661.5h1M1311 662.5h1M1312 663.5h1M1316 667.5h1M1317 668.5h1M1318 669.5h1M1322 673.5h1M1323 674.5h1M1324 675.5h1M1328 679.5h1M1329 680.5h1M1330 681.5h1M1334 685.5h1M1335 686.5h2M1340 690.5h1M1341 691.5h1M1342 692.5h1M1346 696.5h1M1347 697.5h1M1348 698.5h1M1352 702.5h1M1353 703.5h1M1354 704.5h1M1358 708.5h1M1359 709.5h1M1360 710.5h1M1364 714.5h1M1365 715.5h1M1366 716.5h1M1370 720.5h1M1371 721.5h1M1372 722.5h1M1376 726.5h1M1377 727.5h1M1378 728.5h1M1382 732.5h1M1383 733.5h1M1384 734.5h1M1388 738.5h1M1389 739.5h1M1390 740.5h1" stroke="#ff6464" stroke-width="1" fill="none"/>
<path d="M864.5 228v1M865.5 229v2M867.5 234v1M868.5 235v2M870.5 240v1M871.5 241v2M873.5 246v1M874.5 247v2M877.5 252v2M878.5 254v1M880.5 258v2M881.5 260v1M883.5 264v2M884.5 266v1M886.5 270v2M887.5 272v1M889.5 276v1M890.5 277v2M892.5 282v1M893.5 283v2M895.5 288v1M896.5 289v2M898.5 294v1M899.5 295v2M902.5 300v2M903.5 302v1M905.5 306v2M906.5 308v1M908.5 312v2M909.5 314v1M911.5 318v2M912.5 320v1M914.5 324v1M915.5 325v2M917.5 330v1M918.5 331v2M920.5 336v1M921.5 337v2M923.5 342v1M924.5 343v2M927.5 348v2M928.5 350v1M930.5 354v2M931.5 356v1M933.5 360v2M934.5 362v1M936.5 366v2M937.5 368v1M939.5 372v1M940.5 373v2M942.5 378v1M943.5 379v2M945.5 384v1M946.5 385v2M948.5 390v1M949.5 391v1M950.5 392v1M952.5 396v2M953.5 398v1M955.5 402v2M956.5 404v1M958.5 408v2M959.5 410v1M961.5 414v1M962.5 415v2M964.5 420v1M965.5 421v2M967.5 426v1M968.5 427v2M970.5 432v1M971.5 433v2M974.5 438v2M975.5 440v1M977.5 444v2M978.5 446v1M980.5 450v2M981.5 452v1M983.5 456v2M984.5 458v1M986.5 462v1M987.5 463v2M989.5 468v1M990.5 469v2M992.5 474v1M993.5 475v2M995.5 480v1M996.5 481v2M999.5 486v2M1000.5 488v1M1002.5 492v2M1003.5 494v1M1005.5 498v2M1006.5 500v1M1008.5 504v2M1009.5 506v1M1011.5 510v1M1012.5 511v2M1014.5 516v1M1015.5 517v2M1017.5 522v1M1018.5 523v2M1020.5 528v1M1021.5 529v2M1024.5 534v2M1025.5 536v1M1027.5 540v2M1028.5 542v1M1030.5 546v2M1031.5 548v1M1033.5 552v2M1034.5 554v1M1036.5 558v1M1037.5 559v2M1039.5 564v1M1040.5 565v2M1042.5 570v1M1043.5 571v2M1045.5 576v1M1046.5 577v1M1047.5 578v1M1049.5 582v2M1050.5 584v1M1052.5 588v2M1053.5 590v1M1055.5 594v2M1056.5 596v1M1058.5 600v1M1059.5 601v2M1061.5 606v1M1062.5 607v2M1064.5 612v1M1065.5 613v2M1067.5 618v1M1068.5 619v2M1070.5 624v1M1071.5 625v1M1072.5 626v1M1074.5 630v2M1075.5 632v1M1077.5 636v2M1078.5 638v1M1080.5 642v2M1081.5 644v1M1083.5 648v1M1084.5 649v2M1086.5 654v1M1087.5 655v2M1089.5 660v1M1090.5 661v2M1092.5 666v1M1093.5 667v2M1096.5 672v2M1097.5 674v1M1099.5 678v2M1100.5 680v1M1102.5 684v2M1103.5 686v1M1105.5 690v2M1106.5 692v1" stroke="#ff6464" stroke-width="1" fill="none"/>
<path d="M13 342.0h7M20 341.0h6M26 340.0h7M33 339.0h7M40 338.0h6M46 337.0h7M53 336.0h6M59 335.0h7M66 334.0h7M73 333.0h6M79 332.0h7M86 331.0h6M92 330.0h7M99 329.0h7M106 328.0h6M112 327.0h7M119 326.0h6M125 325.0h7M132 324.0h7M139 323.0h6M145 322.0h7M152 321.0h7M159 320.0h6M165 319.0h7M172 318.0h6M178 317.0h7M185 316.0h7M192 315.0h6M198 314.0h7M205 313.0h6M211 312.0h7M218 311.0h7M225 310.0h6M231 309.0h7M238 308.0h6M244 307.0h7M251 306.0h7M258 305.0h6M264 304.0h7M271 303.0h6M277 302.0h7M284 301.0h7M291 300.0h6M297 299.0h7M304 298.0h6M310 297.0h7M317 296.0h7M324 295.0h6M330 294.0h7M337 293.0h7M344 292.0h6M350 291.0h7M357 290.0h6M363 289.0h7M370 288.0h7M377 287.0h6M383 286.0h7M390 285.0h6M396 284.0h7M403 283.0h7M410 282.0h6M416 281.0h7M423 280.0h6M429 279.0h7M436 278.0h7M443 277.0h6M449 276.0h7M456 275.0h6M462 274.0h7M469 273.0h7M476 272.0h6M482 271.0h7M489 270.0h6M495 269.0h7M502 268.0h7M509 267.0h6M515 266.0h7M522 265.0h6M528 264.0h7M535 263.0h7M542 262.0h6M548 261.0h7M555 260.0h7M562 259.0h6M568 258.0h7M575 257.0h6M581 256.0h7M588 255.0h7M595 254.0h6M601 253.0h7M608 252.0h6M614 251.0h7M621 250.0h7M628 249.0h6M634 248.0h7M641 247.0h6M647 246.0h7M654 245.0h7M661 244.0h6M667 243.0h7M674 242.0h6M680 241.0h7M687 240.0h7M694 239.0h6M700 238.0h7M707 237.0h6M713 236.0h7M720 235.0h7M727 234.0h6M733 233.0h7M740 232.0h7M747 231.0h6M753 230.0h7M760 229.0h6M766 228.0h7M773 227.0h7M780 226.0h6M786 225.0h7M793 224.0h6M799 223.0h7M806 222.0h7M813 221.0h6M819 220.0h7M826 219.0h6M832 218.0h7M839 217.0h7M846 216.0h6M852 215.0h7M859 214.0h6M865 213.0h7M872 212.0h7M879 211.0h6M885 210.0h7M892 209.0h6M898 208.0h7M905 207.0h7M912 206.0h6M918 205.0h7M925 204.0h7M932 203.0h6M938 202.0h7M945 201.0h6M951 200.0h7M958 199.0h7M965 198.0h6M971 197.0h7M978 196.0h6M984 195.0h7M991 194.0h7M998 193.0h6M1004 192.0h7M1011 191.0h6M1017 190.0h7M1024 189.0h7M1031 188.0h6M1037 187.0h7M1044 186.0h6M1050 185.0h7M1057 184.0h7M1064 183.0h6M1070 182.0h7M1077 181.0h6M1083 180.0h7M1090 179.0h7M1097 178.0h6M1103 177.0h7M1110 176.0h6M1116 175.0h7M1123 174.0h7M1130 173.0h6M1136 172.0h7M1143 171.0h7M1150 170.0h6M1156 169.0h7M1163 168.0h6M1169 167.0h7M1176 166.0h7M1183 165.0h6M1189 164.0h7M1196 163.0h6M1202 162.0h7M1209 161.0h7M1216 160.0h6M1222 159.0h7M1229 158.0h6M1235 157.0h7M1242 156.0h7M1249 155.0h6M1255 154.0h7M1262 153.0h6M1268 152.0h7M1275 151.0h7M1282 150.0h6M1288 149.0h7M1295 148.0h6M1301 147.0h7M1308 146.0h7M1315 145.0h6M1321 144.0h7M1328 143.0h7M1335 142.0h6M1341 141.0h7M1348 140.0h6M1354 139.0h7M1361 138.0h7M1368 137.0h6M1374 136.0h7M1381 135.0h6M1387 134.0h7M1394 133.0h7M1401 132.0h6M1407 131.0h7M1414 130.0h6M1420 129.0h7M1427 128.0h7M1434 127.0h6M1440 126.0h7M1447 125.0h6M1453 124.0h7M1460 123.0h7M1467 122.0h6M1473 121.0h7M1480 120.0h6M1486 119.0h7M1493 118.0h7M1500 117.0h6M1506 116.0h7M1513 115.0h6M1519 114.0h7M1526 113.0h7M1533 112.0h6M1539 111.0h7M1546 110.0h7M1553 109.0h6M1559 108.0h7M1566 107.0h6M1572 106.0h7M1579 105.0h7M1586 104.0h6M1592 103.0h7M1599 102.0h6M1605 101.0h7M1612 100.0h7M1619 99.0h6M1625 98.0h7M1632 97.0h6M1638 96.0h7M1645 95.0h7M1652 94.0h6M1658 93.0h7M1665 92.0h6M1671 91.0h7M1678 90.0h7M1685 89.0h6M1691 88.0h7M1698 87.0h6M1704 86.0h7M1711 85.0h7M1718 84.0h6M1724 83.0h7M1731 82.0h7M1738 81.0h6M1744 80.0h7M1751 79.0h6M1757 78.0h7M1764 77.0h7M1771 76.0h6M1777 75.0h7M1784 74.0h6M1790 73.0h7M1797 72.0h7M1804 71.0h6M1810 70.0h7M1817 69.0h6M1823 68.0h7M1830 67.0h7M1837 66.0h6M1843 65.0h7" stroke="#007800" stroke-width="2" fill="none"/>
<path d="M13 927.0h6M19 926.0h6M25 925.0h6M31 924.0h6M37 923.0h6M43 922.0h6M49 921.0h6M55 920.0h5M60 919.0h6M66 918.0h6M72 917.0h6M78 916.0h6M84 915.0h6M90 914.0h6M96 913.0h6M102 912.0h6M108 911.0h6M114 910.0h6M120 909.0h5M125 908.0h6M131 907.0h6M137 906.0h6M143 905.0h6M149 904.0h6M155 903.0h6M161 902.0h6M167 901.0h6M173 900.0h6M179 899.0h5M184 898.0h6M190 897.0h6M196 896.0h6M202 895.0h6M208 894.0h6M214 893.0h6M220 892.0h6M226 891.0h6M232 890.0h6M238 889.0h6M244 888.0h5M249 887.0h6M255 886.0h6M261 885.0h6M267 884.0h6M273 883.0h6M279 882.0h6M285 881.0h6M291 880.0h6M297 879.0h6M303 878.0h5M308 877.0h6M314 876.0h6M320 875.0h6M326 874.0h6M332 873.0h6M338 872.0h6M344 871.0h6M350 870.0h6M356 869.0h6M362 868.0h6M368 867.0h5M373 866.0h6M379 865.0h6M385 864.0h6M391 863.0h6M397 862.0h6M403 861.0h6M409 860.0h6M415 859.0h6M421 858.0h6M427 857.0h5M432 856.0h6M438 855.0h6M444 854.0h6M450 853.0h6M456 852.0h6M462 851.0h6M468 850.0h6M474 849.0h6M480 848.0h6M486 847.0h6M492 846.0h5M497 845.0h6M503 844.0h6M509 843.0h6M515 842.0h6M521 841.0h6M527 840.0h6M533 839.0h6M539 838.0h6M545 837.0h6M551 836.0h6M557 835.0h5M562 834.0h6M568 833.0h6M574 832.0h6M580 831.0h6M586 830.0h6M592 829.0h6M598 828.0h6M604 827.0h6M610 826.0h6M616 825.0h5M621 824.0h6M627 823.0h6M633 822.0h6M639 821.0h6M645 820.0h6M651 819.0h6M657 818.0h6M663 817.0h6M669 816.0h6M675 815.0h6M681 814.0h5M686 813.0h6M692 812.0h6M698 811.0h6M704 810.0h6M710 809.0h6M716 808.0h6M722 807.0h6M728 806.0h6M734 805.0h6M740 804.0h5M745 803.0h6M751 802.0h6M757 801.0h6M763 800.0h6M769 799.0h6M775 798.0h6M781 797.0h6M787 796.0h6M793 795.0h6M799 794.0h6M805 793.0h5M810 792.0h6M816 791.0h6M822 790.0h6M828 789.0h6M834 788.0h6M840 787.0h6M846 786.0h6M852 785.0h6M858 784.0h6M864 783.0h5M869 782.0h6M875 781.0h6M881 780.0h6M887 779.0h6M893 778.0h6M899 777.0h6M905 776.0h6M911 775.0h6M917 774.0h6M923 773.0h6M929 772.0h5M934 771.0h6M940 770.0h6M946 769.0h6M952 768.0h6M958 767.0h6M964 766.0h6M970 765.0h6M976 764.0h6M982 763.0h6M988 762.0h6M994 761.0h5M999 760.0h6M1005 759.0h6M1011 758.0h6M1017 757.0h6M1023 756.0h6M1029 755.0h6M1035 754.0h6M1041 753.0h6M1047 752.0h6M1053 751.0h5M1058 750.0h6M1064 749.0h6M1070 748.0h6M1076 747.0h6M1082 746.0h6M1088 745.0h6M1094 744.0h6M1100 743.0h6M1106 742.0h6M1112 741.0h6M1118 740.0h5M1123 739.0h6M1129 738.0h6M1135 737.0h6M1141 736.0h6M1147 735.0h6M1153 734.0h6M1159 733.0h6M1165 732.0h6M1171 731.0h6M1177 730.0h5M1182 729.0h6M1188 728.0h6M1194 727.0h6M1200 726.0h6M1206 725.0h6M1212 724.0h6M1218 723.0h6M1224 722.0h6M1230 721.0h6M1236 720.0h6M1242 719.0h5M1247 718.0h6M1253 717.0h6M1259 716.0h6M1265 715.0h6M1271 714.0h6M1277 713.0h6M1283 712.0h6M1289 711.0h6M1295 710.0h6M1301 709.0h5M1306 708.0h6M1312 707.0h6M1318 706.0h6M1324 705.0h6M1330 704.0h6M1336 703.0h6M1342 702.0h6M1348 701.0h6M1354 700.0h6M1360 699.0h6M1366 698.0h5M1371 697.0h6M1377 696.0h6M1383 695.0h6M1389 694.0h6M1395 693.0h6M1401 692.0h6M1407 691.0h6M1413 690.0h6M1419 689.0h6M1425 688.0h6M1431 687.0h5M1436 686.0h6M1442 685.0h6M1448 684.0h6M1454 683.0h6M1460 682.0h6M1466 681.0h6M1472 680.0h6M1478 679.0h6M1484 678.0h6M1490 677.0h5M1495 676.0h6M1501 675.0h6M1507 674.0h6M1513 673.0h6M1519 672.0h6M1525 671.0h6M1531 670.0h6M1537 669.0h6M1543 668.0h6M1549 667.0h6M1555 666.0h5M1560 665.0h6M1566 664.0h6M1572 663.0h6M1578 662.0h6M1584 661.0h6M1590 660.0h6M1596 659.0h6M1602 658.0h6M1608 657.0h6M1614 656.0h5M1619 655.0h6M1625 654.0h6M1631 653.0h6M1637 652.0h6M1643 651.0h6M1649 650.0h6M1655 649.0h6M1661 648.0h6M1667 647.0h6M1673 646.0h6M1679 645.0h5M1684 644.0h6M1690 643.0h6M1696 642.0h6M1702 641.0h6M1708 640.0h6M1714 639.0h6M1720 638.0h6M1726 637.0h6M1732 636.0h6M1738 635.0h5M1743 634.0h6M1749 633.0h6M1755 632.0h6M1761 631.0h6M1767 630.0h6M1773 629.0h6M1779 628.0h6M1785 627.0h6M1791 626.0h6M1797 625.0h6M1803 624.0h5M1808 623.0h6M1814 622.0h6M1820 621.0h6M1826 620.0h6M1832 619.0h6M1838 618.0h6M1844 617.0h6" stroke="#007800" stroke-width="2" fill="none"/>
<path d="M518 268.5h3M524 267.5h3M530 267.5h1M531 266.5h2M536 266.5h1M537 265.5h2M542 265.5h2M544 264.5h1M548 264.5h2M550 263.5h1M554 263.5h3M560 262.5h3M566 261.5h3M572 260.5h3M578 259.5h3M584 258.5h3M590 257.5h3M596 256.5h3M602 255.5h3M608 254.5h3M614 254.5h1M615 253.5h2M620 253.5h1M621 252.5h2M626 252.5h1M627 251.5h2M632 251.5h2M634 250.5h1M638 250.5h2M640 249.5h1M644 249.5h3M650 248.5h3M656 247.5h3M662 246.5h3M668 245.5h3M674 244.5h3M680 243.5h3M686 242.5h3M692 241.5h3M698 240.5h3M704 240.5h1M705 239.5h2M710 239.5h1M711 238.5h2M716 238.5h2M718 237.5h1M722 237.5h2M724 236.5h1M728 236.5h3M734 235.5h3M740 234.5h3M746 233.5h3M752 232.5h3M758 231.5h3M764 230.5h3M770 229.5h3M776 228.5h3M782 227.5h3M788 227.5h1M789 226.5h2M794 226.5h1M795 225.5h2M800 225.5h2M802 224.5h1M806 224.5h2M808 223.5h1M812 223.5h3M818 222.5h3M824 221.5h3M830 220.5h3M836 219.5h3M842 218.5h3M848 217.5h3M854 216.5h3M860 215.5h3M866 214.5h3M872 214.5h1M873 213.5h2M878 213.5h1M879 212.5h2M884 212.5h1M885 211.5h2M890 211.5h2M892 210.5h1M896 210.5h2M898 209.5h1M902 209.5h3M908 208.5h3M914 207.5h3M920 206.5h3M926 205.5h3M932 204.5h3M938 203.5h3M944 202.5h3M950 201.5h3M956 200.5h3M962 200.5h1M963 199.5h2M968 199.5h1M969 198.5h2M974 198.5h2M976 197.5h1M980 197.5h2M982 196.5h1M986 196.5h3M992 195.5h3M998 194.5h3M1004 193.5h3M1010 192.5h3M1016 191.5h3M1022 190.5h3M1028 189.5h3M1034 188.5h3M1040 187.5h3M1046 187.5h1M1047 186.5h2M1052 186.5h1M1053 185.5h2M1058 185.5h2M1060 184.5h1M1064 184.5h2M1066 183.5h1M1070 183.5h2M1072 182.5h1M1076 182.5h3M1082 181.5h3M1088 180.5h3M1094 179.5h3M1100 178.5h3M1106 177.5h3M1112 176.5h3M1118 175.5h3M1124 174.5h3M1130 174.5h1M1131 173.5h2M1136 173.5h1M1137 172.5h2M1142 172.5h1M1143 171.5h2M1148 171.5h2M1150 170.5h1M1154 170.5h2M1156 169.5h1M1160 169.5h3M1166 168.5h3M1172 167.5h3M1178 166.5h3M1184 165.5h3M1190 164.5h3M1196 163.5h3M1202 162.5h3M1208 161.5h3M1214 160.5h3M1220 160.5h1M1221 159.5h2M1226 159.5h1M1227 158.5h2M1232 158.5h2M1234 157.5h1M1238 157.5h2M1240 156.5h1M1244 156.5h3M1250 155.5h3M1256 154.5h3M1262 153.5h3M1268 152.5h3M1274 151.5h3M1280 150.5h3M1286 149.5h3M1292 148.5h3M1298 147.5h3M1304 147.5h1M1305 146.5h2M1310 146.5h1M1311 145.5h2M1316 145.5h2M1318 144.5h1M1322 144.5h2M1324 143.5h1M1328 143.5h2M1330 142.5h1M1334 142.5h3M1340 141.5h3M1346 140.5h3M1352 139.5h3M1358 138.5h3M1364 137.5h3M1370 136.5h3M1376 135.5h3M1382 134.5h3M1388 133.5h3M1394 133.5h1M1395 132.5h2M1400 132.5h1M1401 131.5h2M1406 131.5h2M1408 130.5h1M1412 130.5h2M1414 129.5h1M1418 129.5h3M1424 128.5h3M1430 127.5h3M1436 126.5h3M1442 125.5h3M1448 124.5h3M1454 123.5h3M1460 122.5h3M1466 121.5h3M1472 120.5h3M1478 120.5h1M1479 119.5h2M1484 119.5h1M1485 118.5h2M1490 118.5h2M1492 117.5h1M1496 117.5h2M1498 116.5h1M1502 116.5h3M1508 115.5h3M1514 114.5h3M1520 113.5h3M1526 112.5h3M1532 111.5h3M1538 110.5h3M1544 109.5h3M1550 108.5h3M1556 107.5h3M1562 107.5h1M1563 106.5h2M1568 106.5h1M1569 105.5h2M1574 105.5h1M1575 104.5h2M1580 104.5h2M1582 103.5h1M1586 103.5h2M1588 102.5h1M1592 102.5h3M1598 101.5h3M1604 100.5h3M1610 99.5h3M1616 98.5h3M1622 97.5h3M1628 96.5h3M1634 95.5h3M1640 94.5h3M1646 93.5h3M1652 93.5h1M1653 92.5h2M1658 92.5h1M1659 91.5h2M1664 91.5h2M1666 90.5h1M1670 90.5h2M1672 89.5h1M1676 89.5h3M1682 88.5h3M1688 87.5h3M1694 86.5h3M1700 85.5h3M1706 84.5h3M1712 83.5h3M1718 82.5h3M1724 81.5h3M1730 80.5h3M1736 80.5h1M1737 79.5h2M1742 79.5h1M1743 78.5h2M1748 78.5h2M1750 77.5h1M1754 77.5h2M1756 76.5h1M1760 76.5h3M1766 75.5h3M1772 74.5h3M1778 73.5h3M1784 72.5h3M1790 71.5h3M1796 70.5h3M1802 69.5h3M1808 68.5h3M1814 67.5h3M1820 67.5h1M1821 66.5h2M1826 66.5h1M1827 65.5h2M1832 65.5h1M1833 64.5h2M1838 64.5h2M1840 63.5h1M1844 63.5h2M1846 62.5h1" stroke="#8000ff" stroke-width="1" fill="none"/>
<path d="M518 835.5h3M524 834.5h3M530 834.5h1M531 833.5h2M536 833.5h1M537 832.5h2M542 832.5h1M543 831.5h2M548 831.5h1M549 830.5h2M554 830.5h2M556 829.5h1M560 829.5h2M562 828.5h1M566 828.5h2M568 827.5h1M572 827.5h2M574 826.5h1M578 826.5h2M580 825.5h1M584 825.5h3M590 824.5h3M596 823.5h3M602 822.5h3M608 821.5h3M614 820.5h3M620 819.5h3M626 818.5h3M632 817.5h3M638 816.5h3M644 815.5h3M650 814.5h3M656 813.5h3M662 812.5h3M668 811.5h3M674 810.5h3M680 809.5h3M686 809.5h1M687 808.5h2M692 808.5h1M693 807.5h2M698 807.5h1M699 806.5h2M704 806.5h1M705 805.5h2M710 805.5h1M711 804.5h2M716 804.5h2M718 803.5h1M722 803.5h2M724 802.5h1M728 802.5h2M730 801.5h1M734 801.5h2M736 800.5h1M740 800.5h3M746 799.5h3M752 798.5h3M758 797.5h3M764 796.5h3M770 795.5h3M776 794.5h3M782 793.5h3M788 792.5h3M794 791.5h3M800 790.5h3M806 789.5h3M812 788.5h3M818 787.5h3M824 786.5h3M830 785.5h3M836 784.5h3M842 784.5h1M843 783.5h2M848 783.5h1M849 782.5h2M854 782.5h1M855 781.5h2M860 781.5h1M861 780.5h2M866 780.5h1M867 779.5h2M872 779.5h2M874 778.5h1M878 778.5h2M880 777.5h1M884 777.5h2M886 776.5h1M890 776.5h2M892 775.5h1M896 775.5h3M902 774.5h3M908 773.5h3M914 772.5h3M920 771.5h3M926 770.5h3M932 769.5h3M938 768.5h3M944 767.5h3M950 766.5h3M956 765.5h3M962 764.5h3M968 763.5h3M974 762.5h3M980 761.5h3M986 760.5h3M992 759.5h3M998 758.5h3M1004 758.5h1M1005 757.5h2M1010 757.5h1M1011 756.5h2M1016 756.5h1M1017 755.5h2M1022 755.5h1M1023 754.5h2M1028 754.5h2M1030 753.5h1M1034 753.5h2M1036 752.5h1M1040 752.5h2M1042 751.5h1M1046 751.5h2M1048 750.5h1M1052 750.5h3M1058 749.5h3M1064 748.5h3M1070 747.5h3M1076 746.5h3M1082 745.5h3M1088 744.5h3M1094 743.5h3M1100 742.5h3M1106 741.5h3M1112 740.5h3M1118 739.5h3M1124 738.5h3M1130 737.5h3M1136 736.5h3M1142 735.5h3M1148 734.5h3M1154 733.5h3M1160 733.5h1M1161 732.5h2M1166 732.5h1M1167 731.5h2M1172 731.5h1M1173 730.5h2M1178 730.5h1M1179 729.5h2M1184 729.5h2M1186 728.5h1M1190 728.5h2M1192 727.5h1M1196 727.5h2M1198 726.5h1M1202 726.5h2M1204 725.5h1M1208 725.5h3M1214 724.5h3M1220 723.5h3M1226 722.5h3M1232 721.5h3M1238 720.5h3M1244 719.5h3M1250 718.5h3M1256 717.5h3M1262 716.5h3M1268 715.5h3M1274 714.5h3M1280 713.5h3M1286 712.5h3M1292 711.5h3M1298 710.5h3M1304 709.5h3M1310 708.5h3M1316 708.5h1M1317 707.5h2M1322 707.5h1M1323 706.5h2M1328 706.5h1M1329 705.5h2M1334 705.5h1M1335 704.5h2M1340 704.5h2M1342 703.5h1M1346 703.5h2M1348 702.5h1M1352 702.5h2M1354 701.5h1M1358 701.5h2M1360 700.5h1M1364 700.5h3M1370 699.5h3M1376 698.5h3M1382 697.5h3M1388 696.5h3M1394 695.5h3M1400 694.5h3M1406 693.5h3M1412 692.5h3M1418 691.5h3M1424 690.5h3M1430 689.5h3M1436 688.5h3M1442 687.5h3M1448 686.5h3M1454 685.5h3M1460 684.5h3M1466 683.5h3M1472 683.5h1M1473 682.5h2M1478 682.5h1M1479 681.5h2M1484 681.5h1M1485 680.5h2M1490 680.5h1M1491 679.5h2M1496 679.5h2M1498 678.5h1M1502 678.5h2M1504 677.5h1M1508 677.5h2M1510 676.5h1M1514 676.5h2M1516 675.5h1M1520 675.5h3M1526 674.5h3M1532 673.5h3M1538 672.5h3M1544 671.5h3M1550 670.5h3M1556 669.5h3M1562 668.5h3M1568 667.5h3M1574 666.5h3M1580 665.5h3M1586 664.5h3M1592 663.5h3M1598 662.5h3M1604 661.5h3M1610 660.5h3M1616 659.5h3M1622 658.5h3M1628 658.5h1M1629 657.5h2M1634 657.5h1M1635 656.5h2M1640 656.5h1M1641 655.5h2M1646 655.5h1M1647 654.5h2M1652 654.5h2M1654 653.5h1M1658 653.5h2M1660 652.5h1M1664 652.5h2M1666 651.5h1M1670 651.5h2M1672 650.5h1M1676 650.5h3M1682 649.5h3M1688 648.5h3M1694 647.5h3M1700 646.5h3M1706 645.5h3M1712 644.5h3M1718 643.5h3M1724 642.5h3M1730 641.5h3M1736 640.5h3M1742 639.5h3M1748 638.5h3M1754 637.5h3M1760 636.5h3M1766 635.5h3M1772 634.5h3M1778 633.5h3M1784 633.5h1M1785 632.5h2M1790 632.5h1M1791 631.5h2M1796 631.5h1M1797 630.5h2M1802 630.5h1M1803 629.5h2M1808 629.5h2M1810 628.5h1M1814 628.5h2M1816 627.5h1M1820 627.5h2M1822 626.5h1M1826 626.5h2M1828 625.5h1M1832 625.5h3M1838 624.5h3M1844 623.5h3" stroke="#8000ff" stroke-width="1" fill="none"/>
<g shape-rendering="crispEdges">
<rect x="0" y="0" width="1916" height="1" fill="#000"/>
<rect x="0" y="0" width="1" height="952" fill="#000"/>
<rect x="0" y="951" width="1916" height="1" fill="#000"/>
<rect x="1915" y="0" width="1" height="952" fill="#000"/>
<rect x="1" y="30" width="1914" height="1" fill="#b4b4b4"/>
<rect x="1" y="15" width="125" height="1" fill="#b4b4b4"/>
<rect x="41" y="1" width="1" height="29" fill="#b4b4b4"/>
<rect x="126" y="1" width="1" height="29" fill="#b4b4b4"/>
<rect x="199" y="1" width="1" height="29" fill="#b4b4b4"/>
<rect x="1678" y="1" width="1" height="29" fill="#b4b4b4"/>
<rect x="1777" y="1" width="1" height="29" fill="#b4b4b4"/>
<rect x="1853" y="1" width="1" height="29" fill="#b4b4b4"/>
<rect x="1853" y="30" width="1" height="921" fill="#b4b4b4"/>
<rect x="1" y="936" width="1914" height="1" fill="#b4b4b4"/>
<rect x="1838" y="937" width="1" height="14" fill="#b4b4b4"/>
<rect x="969.5" y="939.5" width="864" height="9" fill="#b4dcff" stroke="#82aaf0"/>
<rect x="1854" y="762" width="61" height="14" fill="#0000ff"/>
<rect x="1854" y="769" width="4" height="1" fill="#fff"/>
</g>
<path d="M1437,31 h7 l-3.5,4 z" fill="#30c830"/>
<path d="M31,6 h7 l-3.5,4 z" fill="#000"/>
<path d="M31,21 h7 l-3.5,4 z" fill="#000"/>
<text x="5" y="13">370</text>
<text x="2" y="28">Tage</text>
<text x="43" y="13">Fr 10.03.2017</text>
<text x="43" y="27">Mo 13.08.2018</text>
<text x="162.5" y="12" text-anchor="middle">ETHEREUM</text>
<text x="162" y="27" text-anchor="middle">USD</text>
<text x="203" y="16" class="b" style="font-size:14px" textLength="66.5" lengthAdjust="spacingAndGlyphs">Ethereum</text>
<text x="1728" y="12" text-anchor="middle">Indizes</text>
<text x="1728" y="26" text-anchor="middle">Cryptocurrencies</text>
<text x="1780" y="12">H: 1417.380</text>
<text x="1780" y="26">L: 17.680</text>
<svg x="1854" y="1" width="61" height="29"><text x="5" y="11">321.349</text><text x="5" y="25">11501.0/3</text></svg>
<text x="1857" y="45">(c)Tai-Pan</text>
<rect x="1906.5" y="47.5" width="8" height="8" fill="#fff" stroke="#b4b4b4" shape-rendering="crispEdges"/>
<rect x="1908" y="51" width="5" height="1" fill="#b4b4b4" shape-rendering="crispEdges"/>
<text x="122" y="49" style="white-space:pre" textLength="1480" lengthAdjust="spacing">Haftungsausschluss für Inhalte: Alle Trendkanäle bzw. andere Linien, oder Grafiken hier sind keine Empfehlungen, oder Beratung, sondern die zeigen ausschließlich meine eigene Meinung. Alle Chartdaten sind ohne Gewähr.  www.wikifolio.com/de/de/p/cyberwaehrungen</text>
<text x="1860" y="76.5">1700.000</text>
<text x="1860" y="126.5">1600.000</text>
<text x="1860" y="177.5">1500.000</text>
<text x="1860" y="228.5">1400.000</text>
<text x="1860" y="278.5">1300.000</text>
<text x="1860" y="329.5">1200.000</text>
<text x="1860" y="379.5">1100.000</text>
<text x="1860" y="430.5">1000.000</text>
<text x="1860" y="480.5">900.000</text>
<text x="1860" y="531.5">800.000</text>
<text x="1860" y="582.5">700.000</text>
<text x="1860" y="632.5">600.000</text>
<text x="1860" y="683.5">500.000</text>
<text x="1860" y="733.5">400.000</text>
<text x="1860" y="784.5">300.000</text>
<text x="1860" y="834.5">200.000</text>
<text x="1860" y="885.5">100.000</text>
<text x="1860" y="773.5" style="fill:#fff">321.349</text>
<rect x="149" y="937" width="1" height="12" fill="#b4b4b4" shape-rendering="crispEdges"/>
<text x="148" y="949" text-anchor="end">05</text><text x="151" y="949">17</text>
<rect x="238" y="937" width="1" height="12" fill="#b4b4b4" shape-rendering="crispEdges"/>
<text x="237" y="949" text-anchor="end">06</text><text x="240" y="949">17</text>
<rect x="324" y="937" width="1" height="12" fill="#b4b4b4" shape-rendering="crispEdges"/>
<text x="323" y="949" text-anchor="end">07</text><text x="326" y="949">17</text>
<rect x="405" y="937" width="1" height="12" fill="#b4b4b4" shape-rendering="crispEdges"/>
<text x="404" y="949" text-anchor="end">08</text><text x="407" y="949">17</text>
<rect x="495" y="937" width="1" height="12" fill="#b4b4b4" shape-rendering="crispEdges"/>
<text x="494" y="949" text-anchor="end">09</text><text x="497" y="949">17</text>
<rect x="577" y="937" width="1" height="12" fill="#b4b4b4" shape-rendering="crispEdges"/>
<text x="576" y="949" text-anchor="end">10</text><text x="579" y="949">17</text>
<rect x="662" y="937" width="1" height="12" fill="#b4b4b4" shape-rendering="crispEdges"/>
<text x="661" y="949" text-anchor="end">11</text><text x="664" y="949">17</text>
<rect x="748" y="937" width="1" height="12" fill="#b4b4b4" shape-rendering="crispEdges"/>
<text x="747" y="949" text-anchor="end">12</text><text x="750" y="949">17</text>
<rect x="829" y="937" width="1" height="12" fill="#b4b4b4" shape-rendering="crispEdges"/>
<text x="828" y="949" text-anchor="end">01</text><text x="831" y="949">18</text>
<rect x="919" y="937" width="1" height="12" fill="#b4b4b4" shape-rendering="crispEdges"/>
<text x="918" y="949" text-anchor="end">02</text><text x="921" y="949">18</text>
<rect x="996" y="937" width="1" height="12" fill="#b4b4b4" shape-rendering="crispEdges"/>
<text x="995" y="949" text-anchor="end">03</text><text x="998" y="949">18</text>
<rect x="1082" y="937" width="1" height="12" fill="#b4b4b4" shape-rendering="crispEdges"/>
<text x="1081" y="949" text-anchor="end">04</text><text x="1084" y="949">18</text>
<rect x="1164" y="937" width="1" height="12" fill="#b4b4b4" shape-rendering="crispEdges"/>
<text x="1163" y="949" text-anchor="end">05</text><text x="1166" y="949">18</text>
<rect x="1253" y="937" width="1" height="12" fill="#b4b4b4" shape-rendering="crispEdges"/>
<text x="1252" y="949" text-anchor="end">06</text><text x="1255" y="949">18</text>
<rect x="1335" y="937" width="1" height="12" fill="#b4b4b4" shape-rendering="crispEdges"/>
<text x="1334" y="949" text-anchor="end">07</text><text x="1337" y="949">18</text>
<rect x="1413" y="937" width="1" height="12" fill="#b4b4b4" shape-rendering="crispEdges"/>
<text x="1412" y="949" text-anchor="end">08</text><text x="1415" y="949">18</text>
<rect x="1502" y="937" width="1" height="12" fill="#b4b4b4" shape-rendering="crispEdges"/>
<text x="1501" y="949" text-anchor="end">09</text><text x="1504" y="949">18</text>
<rect x="1584" y="937" width="1" height="12" fill="#b4b4b4" shape-rendering="crispEdges"/>
<text x="1583" y="949" text-anchor="end">10</text><text x="1586" y="949">18</text>
<rect x="1673" y="937" width="1" height="12" fill="#b4b4b4" shape-rendering="crispEdges"/>
<text x="1672" y="949" text-anchor="end">11</text><text x="1675" y="949">18</text>
<rect x="1759" y="937" width="1" height="12" fill="#b4b4b4" shape-rendering="crispEdges"/>
<text x="1758" y="949" text-anchor="end">12</text><text x="1761" y="949">18</text>
<text x="1842" y="948">L</text>
<text x="1859" y="949">13.08.18</text>
</svg></body></html>
